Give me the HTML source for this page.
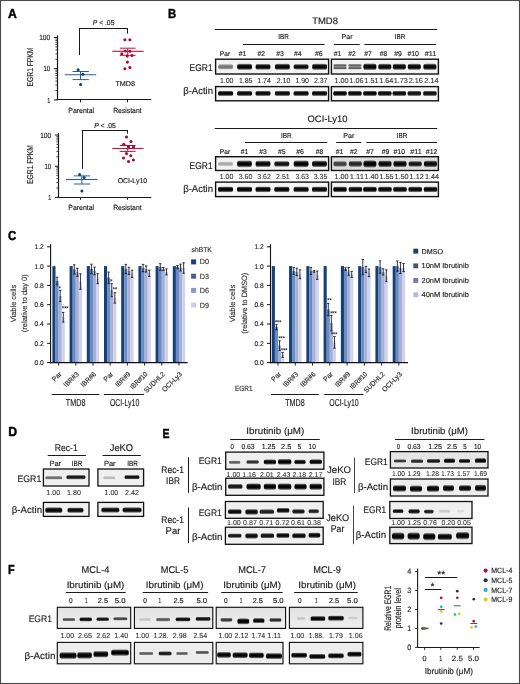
<!DOCTYPE html>
<html><head><meta charset="utf-8"><style>
html,body{margin:0;padding:0;background:#fff;}
svg{display:block;font-family:"Liberation Sans", sans-serif;will-change:transform;text-rendering:geometricPrecision;}
</style></head><body>
<svg width="520" height="684" viewBox="0 0 520 684">
<defs>
<filter id="bl" x="-30%" y="-100%" width="160%" height="300%"><feGaussianBlur stdDeviation="0.65"/></filter>
<filter id="bl2" x="-30%" y="-100%" width="160%" height="300%"><feGaussianBlur stdDeviation="0.8"/></filter>
<linearGradient id="vg" x1="0" y1="0" x2="0" y2="1"><stop offset="0" stop-color="#000" stop-opacity="0"/><stop offset="0.2" stop-color="#000" stop-opacity="0.75"/><stop offset="0.35" stop-color="#000" stop-opacity="1"/><stop offset="0.65" stop-color="#000" stop-opacity="1"/><stop offset="0.8" stop-color="#000" stop-opacity="0.75"/><stop offset="1" stop-color="#000" stop-opacity="0"/></linearGradient>
<linearGradient id="gbg" x1="0" y1="0" x2="0" y2="1"><stop offset="0" stop-color="#e2e2e2"/><stop offset="1" stop-color="#efefef"/></linearGradient>
</defs>
<rect x="0.50" y="0.50" width="519.00" height="683.00" fill="#fff" stroke="#4a4a4a" stroke-width="1.1" />
<text x="12.4" y="18.15" font-size="13.0" text-anchor="middle" fill="#000" font-weight="bold" textLength="8.8" lengthAdjust="spacingAndGlyphs" stroke="#000" stroke-width="0.45">A</text>
<text x="172.2" y="18.25" font-size="13.0" text-anchor="middle" fill="#000" font-weight="bold" textLength="8.2" lengthAdjust="spacingAndGlyphs" stroke="#000" stroke-width="0.45">B</text>
<text x="12.0" y="240.45" font-size="13.0" text-anchor="middle" fill="#000" font-weight="bold" textLength="8.2" lengthAdjust="spacingAndGlyphs" stroke="#000" stroke-width="0.45">C</text>
<text x="12.6" y="436.45" font-size="13.0" text-anchor="middle" fill="#000" font-weight="bold" textLength="8.9" lengthAdjust="spacingAndGlyphs" stroke="#000" stroke-width="0.45">D</text>
<text x="166.0" y="438.45" font-size="13.0" text-anchor="middle" fill="#000" font-weight="bold" textLength="7.0" lengthAdjust="spacingAndGlyphs" stroke="#000" stroke-width="0.45">E</text>
<text x="11.3" y="573.65" font-size="13.0" text-anchor="middle" fill="#000" font-weight="bold" textLength="6.6" lengthAdjust="spacingAndGlyphs" stroke="#000" stroke-width="0.45">F</text>
<line x1="57.5" y1="35.5" x2="57.5" y2="100.4" stroke="#1a1a1a" stroke-width="1.2"/>
<line x1="56.6" y1="99.5" x2="151.3" y2="99.5" stroke="#1a1a1a" stroke-width="1.2"/>
<line x1="53.900000000000006" y1="37.5" x2="57.2" y2="37.5" stroke="#1a1a1a" stroke-width="1.0"/>
<line x1="53.900000000000006" y1="68.7" x2="57.2" y2="68.7" stroke="#1a1a1a" stroke-width="1.0"/>
<line x1="53.900000000000006" y1="99.9" x2="57.2" y2="99.9" stroke="#1a1a1a" stroke-width="1.0"/>
<line x1="55.300000000000004" y1="59.30786413528379" x2="57.2" y2="59.30786413528379" stroke="#222" stroke-width="0.75"/>
<line x1="55.300000000000004" y1="53.813816852746534" x2="57.2" y2="53.813816852746534" stroke="#222" stroke-width="0.75"/>
<line x1="55.300000000000004" y1="49.91572827056758" x2="57.2" y2="49.91572827056758" stroke="#222" stroke-width="0.75"/>
<line x1="55.300000000000004" y1="46.89213586471622" x2="57.2" y2="46.89213586471622" stroke="#222" stroke-width="0.75"/>
<line x1="55.300000000000004" y1="44.42168098803032" x2="57.2" y2="44.42168098803032" stroke="#222" stroke-width="0.75"/>
<line x1="55.300000000000004" y1="42.33294115155519" x2="57.2" y2="42.33294115155519" stroke="#222" stroke-width="0.75"/>
<line x1="55.300000000000004" y1="40.52359240585136" x2="57.2" y2="40.52359240585136" stroke="#222" stroke-width="0.75"/>
<line x1="55.300000000000004" y1="38.927633705493065" x2="57.2" y2="38.927633705493065" stroke="#222" stroke-width="0.75"/>
<line x1="55.300000000000004" y1="90.5078641352838" x2="57.2" y2="90.5078641352838" stroke="#222" stroke-width="0.75"/>
<line x1="55.300000000000004" y1="85.01381685274654" x2="57.2" y2="85.01381685274654" stroke="#222" stroke-width="0.75"/>
<line x1="55.300000000000004" y1="81.11572827056759" x2="57.2" y2="81.11572827056759" stroke="#222" stroke-width="0.75"/>
<line x1="55.300000000000004" y1="78.09213586471623" x2="57.2" y2="78.09213586471623" stroke="#222" stroke-width="0.75"/>
<line x1="55.300000000000004" y1="75.62168098803032" x2="57.2" y2="75.62168098803032" stroke="#222" stroke-width="0.75"/>
<line x1="55.300000000000004" y1="73.53294115155519" x2="57.2" y2="73.53294115155519" stroke="#222" stroke-width="0.75"/>
<line x1="55.300000000000004" y1="71.72359240585136" x2="57.2" y2="71.72359240585136" stroke="#222" stroke-width="0.75"/>
<line x1="55.300000000000004" y1="70.12763370549307" x2="57.2" y2="70.12763370549307" stroke="#222" stroke-width="0.75"/>
<text x="50.2" y="40.16" font-size="7.6" text-anchor="end" fill="#1a1a1a" textLength="11.0" lengthAdjust="spacingAndGlyphs" stroke="#1a1a1a" stroke-width="0.15">100</text>
<text x="50.2" y="71.36" font-size="7.6" text-anchor="end" fill="#1a1a1a" textLength="6.8" lengthAdjust="spacingAndGlyphs" stroke="#1a1a1a" stroke-width="0.15">10</text>
<text x="50.2" y="102.56" font-size="7.6" text-anchor="end" fill="#1a1a1a" textLength="3.0" lengthAdjust="spacingAndGlyphs" stroke="#1a1a1a" stroke-width="0.15">1</text>
<line x1="80.5" y1="99.9" x2="80.5" y2="102.30000000000001" stroke="#1a1a1a" stroke-width="1.0"/>
<line x1="127.5" y1="99.9" x2="127.5" y2="102.30000000000001" stroke="#1a1a1a" stroke-width="1.0"/>
<text x="81.2" y="112.73" font-size="7.5" text-anchor="middle" fill="#1a1a1a" textLength="25.8" lengthAdjust="spacingAndGlyphs" stroke="#1a1a1a" stroke-width="0.15">Parental</text>
<text x="127.4" y="112.83" font-size="7.5" text-anchor="middle" fill="#1a1a1a" textLength="28.4" lengthAdjust="spacingAndGlyphs" stroke="#1a1a1a" stroke-width="0.15">Resistant</text>
<text transform="translate(30.0,67.0) rotate(-90)" x="0" y="3.01" font-size="8.6" text-anchor="middle" fill="#1a1a1a" textLength="38.8" lengthAdjust="spacingAndGlyphs" stroke="#1a1a1a" stroke-width="0.15">EGR1 FPKM</text>
<line x1="79.5" y1="28.0" x2="79.5" y2="55.0" stroke="#1a1a1a" stroke-width="1.0"/>
<line x1="79.1" y1="28.5" x2="128.0" y2="28.5" stroke="#1a1a1a" stroke-width="1.0"/>
<line x1="127.5" y1="28.0" x2="127.5" y2="33.6" stroke="#1a1a1a" stroke-width="1.0"/>
<text x="92.8" y="25.12" font-size="7.2" fill="#1a1a1a" stroke="#1a1a1a" stroke-width="0.15" textLength="21.6" lengthAdjust="spacingAndGlyphs"><tspan font-style="italic">P</tspan> &lt; .05</text>
<line x1="64.7" y1="74.8" x2="96.2" y2="74.8" stroke="#2b5d9c" stroke-width="1.1"/>
<line x1="72.5" y1="71.5" x2="88.9" y2="71.5" stroke="#2b5d9c" stroke-width="1.0"/>
<line x1="72.5" y1="79.6" x2="88.9" y2="79.6" stroke="#2b5d9c" stroke-width="1.0"/>
<line x1="80.5" y1="71.5" x2="80.5" y2="79.6" stroke="#2b5d9c" stroke-width="1.0"/>
<circle cx="78.1" cy="69.7" r="1.5" fill="#143a6e"/>
<circle cx="82.9" cy="74.2" r="1.5" fill="#143a6e"/>
<circle cx="80.6" cy="84.6" r="1.5" fill="#143a6e"/>
<line x1="112.3" y1="51.3" x2="143.6" y2="51.3" stroke="#c0123c" stroke-width="1.1"/>
<line x1="119.8" y1="48.2" x2="135.6" y2="48.2" stroke="#c0123c" stroke-width="1.0"/>
<line x1="119.8" y1="55.3" x2="135.6" y2="55.3" stroke="#c0123c" stroke-width="1.0"/>
<line x1="127.7" y1="48.2" x2="127.7" y2="55.3" stroke="#c0123c" stroke-width="1.0"/>
<circle cx="124.9" cy="39.8" r="1.55" fill="#a20d2f"/>
<circle cx="129.9" cy="39.8" r="1.55" fill="#a20d2f"/>
<circle cx="125.2" cy="51.0" r="1.55" fill="#a20d2f"/>
<circle cx="129.9" cy="51.3" r="1.55" fill="#a20d2f"/>
<circle cx="121.8" cy="53.8" r="1.55" fill="#a20d2f"/>
<circle cx="127.2" cy="56.1" r="1.55" fill="#a20d2f"/>
<circle cx="132.0" cy="55.5" r="1.55" fill="#a20d2f"/>
<circle cx="127.4" cy="62.1" r="1.55" fill="#a20d2f"/>
<circle cx="124.9" cy="68.8" r="1.55" fill="#a20d2f"/>
<circle cx="129.9" cy="67.6" r="1.55" fill="#a20d2f"/>
<text x="125.2" y="85.95" font-size="7.0" text-anchor="middle" fill="#1a1a1a" textLength="19.6" lengthAdjust="spacingAndGlyphs" stroke="#1a1a1a" stroke-width="0.15">TMD8</text>
<line x1="58.5" y1="133.0" x2="58.5" y2="197.9" stroke="#1a1a1a" stroke-width="1.2"/>
<line x1="57.6" y1="197.5" x2="151.3" y2="197.5" stroke="#1a1a1a" stroke-width="1.2"/>
<line x1="54.900000000000006" y1="135.0" x2="58.2" y2="135.0" stroke="#1a1a1a" stroke-width="1.0"/>
<line x1="54.900000000000006" y1="166.2" x2="58.2" y2="166.2" stroke="#1a1a1a" stroke-width="1.0"/>
<line x1="54.900000000000006" y1="197.4" x2="58.2" y2="197.4" stroke="#1a1a1a" stroke-width="1.0"/>
<line x1="56.300000000000004" y1="156.80786413528378" x2="58.2" y2="156.80786413528378" stroke="#222" stroke-width="0.75"/>
<line x1="56.300000000000004" y1="151.31381685274653" x2="58.2" y2="151.31381685274653" stroke="#222" stroke-width="0.75"/>
<line x1="56.300000000000004" y1="147.41572827056757" x2="58.2" y2="147.41572827056757" stroke="#222" stroke-width="0.75"/>
<line x1="56.300000000000004" y1="144.3921358647162" x2="58.2" y2="144.3921358647162" stroke="#222" stroke-width="0.75"/>
<line x1="56.300000000000004" y1="141.92168098803032" x2="58.2" y2="141.92168098803032" stroke="#222" stroke-width="0.75"/>
<line x1="56.300000000000004" y1="139.8329411515552" x2="58.2" y2="139.8329411515552" stroke="#222" stroke-width="0.75"/>
<line x1="56.300000000000004" y1="138.02359240585136" x2="58.2" y2="138.02359240585136" stroke="#222" stroke-width="0.75"/>
<line x1="56.300000000000004" y1="136.42763370549307" x2="58.2" y2="136.42763370549307" stroke="#222" stroke-width="0.75"/>
<line x1="56.300000000000004" y1="188.00786413528377" x2="58.2" y2="188.00786413528377" stroke="#222" stroke-width="0.75"/>
<line x1="56.300000000000004" y1="182.51381685274652" x2="58.2" y2="182.51381685274652" stroke="#222" stroke-width="0.75"/>
<line x1="56.300000000000004" y1="178.61572827056756" x2="58.2" y2="178.61572827056756" stroke="#222" stroke-width="0.75"/>
<line x1="56.300000000000004" y1="175.5921358647162" x2="58.2" y2="175.5921358647162" stroke="#222" stroke-width="0.75"/>
<line x1="56.300000000000004" y1="173.1216809880303" x2="58.2" y2="173.1216809880303" stroke="#222" stroke-width="0.75"/>
<line x1="56.300000000000004" y1="171.03294115155518" x2="58.2" y2="171.03294115155518" stroke="#222" stroke-width="0.75"/>
<line x1="56.300000000000004" y1="169.22359240585135" x2="58.2" y2="169.22359240585135" stroke="#222" stroke-width="0.75"/>
<line x1="56.300000000000004" y1="167.62763370549305" x2="58.2" y2="167.62763370549305" stroke="#222" stroke-width="0.75"/>
<text x="51.2" y="137.66" font-size="7.6" text-anchor="end" fill="#1a1a1a" textLength="11.0" lengthAdjust="spacingAndGlyphs" stroke="#1a1a1a" stroke-width="0.15">100</text>
<text x="51.2" y="168.86" font-size="7.6" text-anchor="end" fill="#1a1a1a" textLength="6.8" lengthAdjust="spacingAndGlyphs" stroke="#1a1a1a" stroke-width="0.15">10</text>
<text x="51.2" y="200.06" font-size="7.6" text-anchor="end" fill="#1a1a1a" textLength="3.0" lengthAdjust="spacingAndGlyphs" stroke="#1a1a1a" stroke-width="0.15">1</text>
<line x1="80.5" y1="197.4" x2="80.5" y2="199.8" stroke="#1a1a1a" stroke-width="1.0"/>
<line x1="127.5" y1="197.4" x2="127.5" y2="199.8" stroke="#1a1a1a" stroke-width="1.0"/>
<text x="81.2" y="210.22" font-size="7.5" text-anchor="middle" fill="#1a1a1a" textLength="25.8" lengthAdjust="spacingAndGlyphs" stroke="#1a1a1a" stroke-width="0.15">Parental</text>
<text x="127.4" y="210.33" font-size="7.5" text-anchor="middle" fill="#1a1a1a" textLength="28.4" lengthAdjust="spacingAndGlyphs" stroke="#1a1a1a" stroke-width="0.15">Resistant</text>
<text transform="translate(30.4,164.5) rotate(-90)" x="0" y="3.01" font-size="8.6" text-anchor="middle" fill="#1a1a1a" textLength="38.8" lengthAdjust="spacingAndGlyphs" stroke="#1a1a1a" stroke-width="0.15">EGR1 FPKM</text>
<line x1="82.5" y1="130.7" x2="82.5" y2="168.8" stroke="#1a1a1a" stroke-width="1.0"/>
<line x1="81.69999999999999" y1="130.5" x2="128.0" y2="130.5" stroke="#1a1a1a" stroke-width="1.0"/>
<line x1="127.5" y1="130.7" x2="127.5" y2="133.5" stroke="#1a1a1a" stroke-width="1.0"/>
<text x="94.2" y="127.52" font-size="7.2" fill="#1a1a1a" stroke="#1a1a1a" stroke-width="0.15" textLength="21.6" lengthAdjust="spacingAndGlyphs"><tspan font-style="italic">P</tspan> &lt; .05</text>
<line x1="66.0" y1="179.5" x2="97.5" y2="179.5" stroke="#2b5d9c" stroke-width="1.1"/>
<line x1="73.8" y1="175.9" x2="90.2" y2="175.9" stroke="#2b5d9c" stroke-width="1.0"/>
<line x1="73.8" y1="184.0" x2="90.2" y2="184.0" stroke="#2b5d9c" stroke-width="1.0"/>
<line x1="81.8" y1="175.9" x2="81.8" y2="184.0" stroke="#2b5d9c" stroke-width="1.0"/>
<circle cx="79.6" cy="174.6" r="1.5" fill="#143a6e"/>
<circle cx="84.2" cy="177.4" r="1.5" fill="#143a6e"/>
<circle cx="81.9" cy="191.1" r="1.5" fill="#143a6e"/>
<line x1="112.3" y1="148.5" x2="143.6" y2="148.5" stroke="#c0123c" stroke-width="1.1"/>
<line x1="119.8" y1="145.5" x2="135.6" y2="145.5" stroke="#c0123c" stroke-width="1.0"/>
<line x1="119.8" y1="151.4" x2="135.6" y2="151.4" stroke="#c0123c" stroke-width="1.0"/>
<line x1="127.7" y1="145.5" x2="127.7" y2="151.4" stroke="#c0123c" stroke-width="1.0"/>
<circle cx="126.5" cy="137.0" r="1.55" fill="#a20d2f"/>
<circle cx="131.0" cy="141.5" r="1.55" fill="#a20d2f"/>
<circle cx="123.8" cy="144.2" r="1.55" fill="#a20d2f"/>
<circle cx="128.5" cy="146.8" r="1.55" fill="#a20d2f"/>
<circle cx="133.5" cy="147.0" r="1.55" fill="#a20d2f"/>
<circle cx="126.5" cy="153.5" r="1.55" fill="#a20d2f"/>
<circle cx="130.8" cy="155.8" r="1.55" fill="#a20d2f"/>
<circle cx="123.5" cy="158.0" r="1.55" fill="#a20d2f"/>
<circle cx="133.4" cy="160.0" r="1.55" fill="#a20d2f"/>
<circle cx="128.5" cy="161.5" r="1.55" fill="#a20d2f"/>
<text x="132.4" y="182.85" font-size="7.0" text-anchor="middle" fill="#1a1a1a" textLength="29.5" lengthAdjust="spacingAndGlyphs" stroke="#1a1a1a" stroke-width="0.15">OCI-Ly10</text>
<text x="325.05" y="23.59" font-size="9.4" text-anchor="middle" fill="#1a1a1a" textLength="25.7" lengthAdjust="spacingAndGlyphs" stroke="#1a1a1a" stroke-width="0.15">TMD8</text>
<line x1="214.8" y1="29.5" x2="437.2" y2="29.5" stroke="#1a1a1a" stroke-width="1.0"/>
<text x="283.6" y="39.12" font-size="7.2" text-anchor="middle" fill="#1a1a1a" textLength="10.6" lengthAdjust="spacingAndGlyphs" stroke="#1a1a1a" stroke-width="0.15">IBR</text>
<line x1="243.0" y1="44.5" x2="324.5" y2="44.5" stroke="#1a1a1a" stroke-width="1.0"/>
<text x="347.0" y="39.12" font-size="7.2" text-anchor="middle" fill="#1a1a1a" textLength="11.0" lengthAdjust="spacingAndGlyphs" stroke="#1a1a1a" stroke-width="0.15">Par</text>
<line x1="334.0" y1="44.5" x2="359.7" y2="44.5" stroke="#1a1a1a" stroke-width="1.0"/>
<text x="400.0" y="39.12" font-size="7.2" text-anchor="middle" fill="#1a1a1a" textLength="10.6" lengthAdjust="spacingAndGlyphs" stroke="#1a1a1a" stroke-width="0.15">IBR</text>
<line x1="364.4" y1="44.5" x2="436.0" y2="44.5" stroke="#1a1a1a" stroke-width="1.0"/>
<text x="225.0" y="55.65" font-size="7.0" text-anchor="middle" fill="#1a1a1a" textLength="10.4" lengthAdjust="spacingAndGlyphs" stroke="#1a1a1a" stroke-width="0.15">Par</text>
<text x="242.6" y="55.65" font-size="7.0" text-anchor="middle" fill="#1a1a1a" textLength="7.6" lengthAdjust="spacingAndGlyphs" stroke="#1a1a1a" stroke-width="0.15">#1</text>
<text x="261.3" y="55.65" font-size="7.0" text-anchor="middle" fill="#1a1a1a" textLength="7.6" lengthAdjust="spacingAndGlyphs" stroke="#1a1a1a" stroke-width="0.15">#2</text>
<text x="280.1" y="55.65" font-size="7.0" text-anchor="middle" fill="#1a1a1a" textLength="7.6" lengthAdjust="spacingAndGlyphs" stroke="#1a1a1a" stroke-width="0.15">#3</text>
<text x="297.7" y="55.65" font-size="7.0" text-anchor="middle" fill="#1a1a1a" textLength="7.6" lengthAdjust="spacingAndGlyphs" stroke="#1a1a1a" stroke-width="0.15">#4</text>
<text x="318.7" y="55.65" font-size="7.0" text-anchor="middle" fill="#1a1a1a" textLength="7.6" lengthAdjust="spacingAndGlyphs" stroke="#1a1a1a" stroke-width="0.15">#6</text>
<text x="337.6" y="55.65" font-size="7.0" text-anchor="middle" fill="#1a1a1a" textLength="7.6" lengthAdjust="spacingAndGlyphs" stroke="#1a1a1a" stroke-width="0.15">#1</text>
<text x="352.1" y="55.65" font-size="7.0" text-anchor="middle" fill="#1a1a1a" textLength="7.6" lengthAdjust="spacingAndGlyphs" stroke="#1a1a1a" stroke-width="0.15">#2</text>
<text x="368.0" y="55.65" font-size="7.0" text-anchor="middle" fill="#1a1a1a" textLength="7.6" lengthAdjust="spacingAndGlyphs" stroke="#1a1a1a" stroke-width="0.15">#7</text>
<text x="383.6" y="55.65" font-size="7.0" text-anchor="middle" fill="#1a1a1a" textLength="7.6" lengthAdjust="spacingAndGlyphs" stroke="#1a1a1a" stroke-width="0.15">#8</text>
<text x="398.0" y="55.65" font-size="7.0" text-anchor="middle" fill="#1a1a1a" textLength="7.6" lengthAdjust="spacingAndGlyphs" stroke="#1a1a1a" stroke-width="0.15">#9</text>
<text x="413.2" y="55.65" font-size="7.0" text-anchor="middle" fill="#1a1a1a" textLength="11.6" lengthAdjust="spacingAndGlyphs" stroke="#1a1a1a" stroke-width="0.15">#10</text>
<text x="430.6" y="55.65" font-size="7.0" text-anchor="middle" fill="#1a1a1a" textLength="11.6" lengthAdjust="spacingAndGlyphs" stroke="#1a1a1a" stroke-width="0.15">#11</text>
<rect x="215.60" y="59.20" width="113.00" height="14.80" fill="#f3f3f3" stroke="#111" stroke-width="1.4" />
<rect x="331.40" y="59.20" width="107.00" height="14.80" fill="#f3f3f3" stroke="#111" stroke-width="1.4" />
<rect x="215.60" y="86.60" width="113.00" height="14.20" fill="#f5f5f5" stroke="#111" stroke-width="1.4" />
<rect x="331.40" y="86.60" width="107.00" height="14.20" fill="#f5f5f5" stroke="#111" stroke-width="1.4" />
<rect x="218.20" y="63.80" width="14.80" height="6.00" rx="2.70" fill="url(#vg)" fill-opacity="0.5"/>
<rect x="237.20" y="63.30" width="14.80" height="7.00" rx="3.15" fill="url(#vg)" fill-opacity="0.98"/>
<rect x="255.60" y="63.50" width="14.80" height="6.60" rx="2.97" fill="url(#vg)" fill-opacity="0.97"/>
<rect x="275.00" y="63.30" width="14.80" height="7.00" rx="3.15" fill="url(#vg)" fill-opacity="0.98"/>
<rect x="293.70" y="63.70" width="14.80" height="6.20" rx="2.79" fill="url(#vg)" fill-opacity="0.95"/>
<rect x="312.20" y="63.30" width="14.80" height="7.00" rx="3.15" fill="url(#vg)" fill-opacity="0.98"/>
<rect x="333.50" y="63.90" width="13.00" height="3.20" rx="1.44" fill="url(#vg)" fill-opacity="0.6"/>
<rect x="333.50" y="66.50" width="13.00" height="3.20" rx="1.44" fill="url(#vg)" fill-opacity="0.6"/>
<rect x="348.40" y="63.90" width="13.00" height="3.20" rx="1.44" fill="url(#vg)" fill-opacity="0.6"/>
<rect x="348.40" y="66.50" width="13.00" height="3.20" rx="1.44" fill="url(#vg)" fill-opacity="0.6"/>
<rect x="363.40" y="63.10" width="13.00" height="7.40" rx="3.33" fill="url(#vg)" fill-opacity="0.98"/>
<rect x="378.30" y="63.30" width="13.00" height="7.00" rx="3.15" fill="url(#vg)" fill-opacity="0.96"/>
<rect x="392.80" y="63.30" width="13.00" height="7.00" rx="3.15" fill="url(#vg)" fill-opacity="0.97"/>
<rect x="407.80" y="63.30" width="13.00" height="7.00" rx="3.15" fill="url(#vg)" fill-opacity="0.97"/>
<rect x="423.40" y="63.20" width="13.00" height="7.20" rx="3.24" fill="url(#vg)" fill-opacity="0.97"/>
<rect x="218.10" y="90.40" width="15.00" height="6.00" rx="2.70" fill="url(#vg)" fill-opacity="0.97"/>
<rect x="237.10" y="90.40" width="15.00" height="6.00" rx="2.70" fill="url(#vg)" fill-opacity="0.95"/>
<rect x="255.50" y="90.40" width="15.00" height="6.00" rx="2.70" fill="url(#vg)" fill-opacity="0.95"/>
<rect x="274.90" y="90.40" width="15.00" height="6.00" rx="2.70" fill="url(#vg)" fill-opacity="0.95"/>
<rect x="293.60" y="90.40" width="15.00" height="6.00" rx="2.70" fill="url(#vg)" fill-opacity="0.95"/>
<rect x="312.10" y="90.40" width="15.00" height="6.00" rx="2.70" fill="url(#vg)" fill-opacity="0.95"/>
<rect x="333.25" y="90.40" width="13.50" height="6.00" rx="2.70" fill="url(#vg)" fill-opacity="0.97"/>
<rect x="348.15" y="90.40" width="13.50" height="6.00" rx="2.70" fill="url(#vg)" fill-opacity="0.95"/>
<rect x="363.15" y="90.40" width="13.50" height="6.00" rx="2.70" fill="url(#vg)" fill-opacity="0.97"/>
<rect x="378.05" y="90.40" width="13.50" height="6.00" rx="2.70" fill="url(#vg)" fill-opacity="0.95"/>
<rect x="392.55" y="90.40" width="13.50" height="6.00" rx="2.70" fill="url(#vg)" fill-opacity="0.95"/>
<rect x="407.55" y="90.40" width="13.50" height="6.00" rx="2.70" fill="url(#vg)" fill-opacity="0.9"/>
<rect x="423.15" y="90.40" width="13.50" height="6.00" rx="2.70" fill="url(#vg)" fill-opacity="0.92"/>
<text x="226.7" y="82.75" font-size="7.3" text-anchor="middle" fill="#2e2e2e" textLength="13.6" lengthAdjust="spacingAndGlyphs" stroke="#2e2e2e" stroke-width="0.08">1.00</text>
<text x="245.7" y="82.75" font-size="7.3" text-anchor="middle" fill="#2e2e2e" textLength="13.6" lengthAdjust="spacingAndGlyphs" stroke="#2e2e2e" stroke-width="0.08">1.85</text>
<text x="264.1" y="82.75" font-size="7.3" text-anchor="middle" fill="#2e2e2e" textLength="13.6" lengthAdjust="spacingAndGlyphs" stroke="#2e2e2e" stroke-width="0.08">1.74</text>
<text x="283.5" y="82.75" font-size="7.3" text-anchor="middle" fill="#2e2e2e" textLength="13.6" lengthAdjust="spacingAndGlyphs" stroke="#2e2e2e" stroke-width="0.08">2.10</text>
<text x="302.20000000000005" y="82.75" font-size="7.3" text-anchor="middle" fill="#2e2e2e" textLength="13.6" lengthAdjust="spacingAndGlyphs" stroke="#2e2e2e" stroke-width="0.08">1.90</text>
<text x="320.70000000000005" y="82.75" font-size="7.3" text-anchor="middle" fill="#2e2e2e" textLength="13.6" lengthAdjust="spacingAndGlyphs" stroke="#2e2e2e" stroke-width="0.08">2.37</text>
<text x="341.5" y="82.75" font-size="7.3" text-anchor="middle" fill="#2e2e2e" textLength="14.2" lengthAdjust="spacingAndGlyphs" stroke="#2e2e2e" stroke-width="0.08">1.00</text>
<text x="356.4" y="82.75" font-size="7.3" text-anchor="middle" fill="#2e2e2e" textLength="14.2" lengthAdjust="spacingAndGlyphs" stroke="#2e2e2e" stroke-width="0.08">1.06</text>
<text x="371.4" y="82.75" font-size="7.3" text-anchor="middle" fill="#2e2e2e" textLength="14.2" lengthAdjust="spacingAndGlyphs" stroke="#2e2e2e" stroke-width="0.08">1.51</text>
<text x="386.3" y="82.75" font-size="7.3" text-anchor="middle" fill="#2e2e2e" textLength="14.2" lengthAdjust="spacingAndGlyphs" stroke="#2e2e2e" stroke-width="0.08">1.64</text>
<text x="400.8" y="82.75" font-size="7.3" text-anchor="middle" fill="#2e2e2e" textLength="14.2" lengthAdjust="spacingAndGlyphs" stroke="#2e2e2e" stroke-width="0.08">1.73</text>
<text x="415.8" y="82.75" font-size="7.3" text-anchor="middle" fill="#2e2e2e" textLength="14.2" lengthAdjust="spacingAndGlyphs" stroke="#2e2e2e" stroke-width="0.08">2.16</text>
<text x="431.4" y="82.75" font-size="7.3" text-anchor="middle" fill="#2e2e2e" textLength="14.2" lengthAdjust="spacingAndGlyphs" stroke="#2e2e2e" stroke-width="0.08">2.14</text>
<text x="212.6" y="70.73" font-size="9.8" text-anchor="end" fill="#1a1a1a" textLength="23.0" lengthAdjust="spacingAndGlyphs" stroke="#1a1a1a" stroke-width="0.15">EGR1</text>
<text x="213.0" y="94.23" font-size="9.8" text-anchor="end" fill="#1a1a1a" textLength="29.8" lengthAdjust="spacingAndGlyphs" stroke="#1a1a1a" stroke-width="0.15">β-Actin</text>
<text x="327.5" y="122.39" font-size="9.4" text-anchor="middle" fill="#1a1a1a" textLength="39.9" lengthAdjust="spacingAndGlyphs" stroke="#1a1a1a" stroke-width="0.15">OCI-Ly10</text>
<line x1="214.8" y1="128.5" x2="437.2" y2="128.5" stroke="#1a1a1a" stroke-width="1.0"/>
<text x="286.2" y="137.92" font-size="7.2" text-anchor="middle" fill="#1a1a1a" textLength="10.6" lengthAdjust="spacingAndGlyphs" stroke="#1a1a1a" stroke-width="0.15">IBR</text>
<line x1="245.0" y1="142.5" x2="327.3" y2="142.5" stroke="#1a1a1a" stroke-width="1.0"/>
<text x="348.8" y="137.92" font-size="7.2" text-anchor="middle" fill="#1a1a1a" textLength="11.0" lengthAdjust="spacingAndGlyphs" stroke="#1a1a1a" stroke-width="0.15">Par</text>
<line x1="336.2" y1="142.5" x2="361.3" y2="142.5" stroke="#1a1a1a" stroke-width="1.0"/>
<text x="402.0" y="137.92" font-size="7.2" text-anchor="middle" fill="#1a1a1a" textLength="10.6" lengthAdjust="spacingAndGlyphs" stroke="#1a1a1a" stroke-width="0.15">IBR</text>
<line x1="366.3" y1="142.5" x2="437.0" y2="142.5" stroke="#1a1a1a" stroke-width="1.0"/>
<text x="225.0" y="153.95" font-size="7.0" text-anchor="middle" fill="#1a1a1a" textLength="10.4" lengthAdjust="spacingAndGlyphs" stroke="#1a1a1a" stroke-width="0.15">Par</text>
<text x="244.6" y="153.95" font-size="7.0" text-anchor="middle" fill="#1a1a1a" textLength="7.6" lengthAdjust="spacingAndGlyphs" stroke="#1a1a1a" stroke-width="0.15">#1</text>
<text x="263.0" y="153.95" font-size="7.0" text-anchor="middle" fill="#1a1a1a" textLength="7.6" lengthAdjust="spacingAndGlyphs" stroke="#1a1a1a" stroke-width="0.15">#3</text>
<text x="281.8" y="153.95" font-size="7.0" text-anchor="middle" fill="#1a1a1a" textLength="7.6" lengthAdjust="spacingAndGlyphs" stroke="#1a1a1a" stroke-width="0.15">#5</text>
<text x="300.0" y="153.95" font-size="7.0" text-anchor="middle" fill="#1a1a1a" textLength="7.6" lengthAdjust="spacingAndGlyphs" stroke="#1a1a1a" stroke-width="0.15">#6</text>
<text x="319.5" y="153.95" font-size="7.0" text-anchor="middle" fill="#1a1a1a" textLength="7.6" lengthAdjust="spacingAndGlyphs" stroke="#1a1a1a" stroke-width="0.15">#8</text>
<text x="339.6" y="153.95" font-size="7.0" text-anchor="middle" fill="#1a1a1a" textLength="7.6" lengthAdjust="spacingAndGlyphs" stroke="#1a1a1a" stroke-width="0.15">#1</text>
<text x="353.7" y="153.95" font-size="7.0" text-anchor="middle" fill="#1a1a1a" textLength="7.6" lengthAdjust="spacingAndGlyphs" stroke="#1a1a1a" stroke-width="0.15">#2</text>
<text x="370.0" y="153.95" font-size="7.0" text-anchor="middle" fill="#1a1a1a" textLength="7.6" lengthAdjust="spacingAndGlyphs" stroke="#1a1a1a" stroke-width="0.15">#7</text>
<text x="385.5" y="153.95" font-size="7.0" text-anchor="middle" fill="#1a1a1a" textLength="7.6" lengthAdjust="spacingAndGlyphs" stroke="#1a1a1a" stroke-width="0.15">#9</text>
<text x="399.3" y="153.95" font-size="7.0" text-anchor="middle" fill="#1a1a1a" textLength="11.6" lengthAdjust="spacingAndGlyphs" stroke="#1a1a1a" stroke-width="0.15">#10</text>
<text x="416.0" y="153.95" font-size="7.0" text-anchor="middle" fill="#1a1a1a" textLength="11.6" lengthAdjust="spacingAndGlyphs" stroke="#1a1a1a" stroke-width="0.15">#11</text>
<text x="431.6" y="153.95" font-size="7.0" text-anchor="middle" fill="#1a1a1a" textLength="11.6" lengthAdjust="spacingAndGlyphs" stroke="#1a1a1a" stroke-width="0.15">#12</text>
<rect x="215.60" y="156.70" width="113.00" height="13.80" fill="#f3f3f3" stroke="#111" stroke-width="1.4" />
<rect x="331.40" y="156.70" width="107.00" height="13.80" fill="#dedede" stroke="#111" stroke-width="1.4" />
<rect x="215.60" y="182.10" width="113.00" height="14.50" fill="#f5f5f5" stroke="#111" stroke-width="1.4" />
<rect x="331.40" y="182.10" width="107.00" height="14.50" fill="#f5f5f5" stroke="#111" stroke-width="1.4" />
<rect x="218.10" y="161.40" width="14.80" height="5.00" rx="2.25" fill="url(#vg)" fill-opacity="0.3"/>
<rect x="237.10" y="160.10" width="14.80" height="7.60" rx="3.42" fill="url(#vg)" fill-opacity="0.98"/>
<rect x="255.60" y="160.30" width="14.80" height="7.20" rx="3.24" fill="url(#vg)" fill-opacity="0.97"/>
<rect x="274.40" y="160.70" width="14.80" height="6.40" rx="2.88" fill="url(#vg)" fill-opacity="0.92"/>
<rect x="293.70" y="160.10" width="14.80" height="7.60" rx="3.42" fill="url(#vg)" fill-opacity="0.98"/>
<rect x="312.10" y="160.20" width="14.80" height="7.40" rx="3.33" fill="url(#vg)" fill-opacity="0.97"/>
<rect x="333.50" y="160.70" width="13.00" height="6.40" rx="2.88" fill="url(#vg)" fill-opacity="0.7"/>
<rect x="348.90" y="160.50" width="13.00" height="6.80" rx="3.06" fill="url(#vg)" fill-opacity="0.82"/>
<rect x="363.40" y="159.90" width="13.00" height="8.00" rx="3.60" fill="url(#vg)" fill-opacity="0.98"/>
<rect x="378.50" y="160.20" width="13.00" height="7.40" rx="3.33" fill="url(#vg)" fill-opacity="0.96"/>
<rect x="393.50" y="160.20" width="13.00" height="7.40" rx="3.33" fill="url(#vg)" fill-opacity="0.96"/>
<rect x="408.70" y="160.70" width="13.00" height="6.40" rx="2.88" fill="url(#vg)" fill-opacity="0.9"/>
<rect x="424.00" y="160.20" width="13.00" height="7.40" rx="3.33" fill="url(#vg)" fill-opacity="0.95"/>
<rect x="218.00" y="186.20" width="15.00" height="6.40" rx="2.88" fill="url(#vg)" fill-opacity="0.97"/>
<rect x="237.00" y="186.20" width="15.00" height="6.40" rx="2.88" fill="url(#vg)" fill-opacity="0.97"/>
<rect x="255.50" y="186.20" width="15.00" height="6.40" rx="2.88" fill="url(#vg)" fill-opacity="0.97"/>
<rect x="274.30" y="186.20" width="15.00" height="6.40" rx="2.88" fill="url(#vg)" fill-opacity="0.97"/>
<rect x="293.60" y="186.20" width="15.00" height="6.40" rx="2.88" fill="url(#vg)" fill-opacity="0.95"/>
<rect x="312.00" y="186.20" width="15.00" height="6.40" rx="2.88" fill="url(#vg)" fill-opacity="0.95"/>
<rect x="333.25" y="186.20" width="13.50" height="6.40" rx="2.88" fill="url(#vg)" fill-opacity="0.97"/>
<rect x="348.65" y="186.20" width="13.50" height="6.40" rx="2.88" fill="url(#vg)" fill-opacity="0.95"/>
<rect x="363.15" y="186.20" width="13.50" height="6.40" rx="2.88" fill="url(#vg)" fill-opacity="0.97"/>
<rect x="378.25" y="186.20" width="13.50" height="6.40" rx="2.88" fill="url(#vg)" fill-opacity="0.95"/>
<rect x="393.25" y="186.20" width="13.50" height="6.40" rx="2.88" fill="url(#vg)" fill-opacity="0.95"/>
<rect x="408.45" y="186.20" width="13.50" height="6.40" rx="2.88" fill="url(#vg)" fill-opacity="0.95"/>
<rect x="423.75" y="186.20" width="13.50" height="6.40" rx="2.88" fill="url(#vg)" fill-opacity="0.95"/>
<text x="226.6" y="178.96" font-size="7.3" text-anchor="middle" fill="#2e2e2e" textLength="13.6" lengthAdjust="spacingAndGlyphs" stroke="#2e2e2e" stroke-width="0.08">1.00</text>
<text x="245.6" y="178.96" font-size="7.3" text-anchor="middle" fill="#2e2e2e" textLength="13.6" lengthAdjust="spacingAndGlyphs" stroke="#2e2e2e" stroke-width="0.08">3.60</text>
<text x="264.1" y="178.96" font-size="7.3" text-anchor="middle" fill="#2e2e2e" textLength="13.6" lengthAdjust="spacingAndGlyphs" stroke="#2e2e2e" stroke-width="0.08">3.62</text>
<text x="282.90000000000003" y="178.96" font-size="7.3" text-anchor="middle" fill="#2e2e2e" textLength="13.6" lengthAdjust="spacingAndGlyphs" stroke="#2e2e2e" stroke-width="0.08">2.51</text>
<text x="302.20000000000005" y="178.96" font-size="7.3" text-anchor="middle" fill="#2e2e2e" textLength="13.6" lengthAdjust="spacingAndGlyphs" stroke="#2e2e2e" stroke-width="0.08">3.63</text>
<text x="320.6" y="178.96" font-size="7.3" text-anchor="middle" fill="#2e2e2e" textLength="13.6" lengthAdjust="spacingAndGlyphs" stroke="#2e2e2e" stroke-width="0.08">3.35</text>
<text x="341.5" y="178.96" font-size="7.3" text-anchor="middle" fill="#2e2e2e" textLength="14.2" lengthAdjust="spacingAndGlyphs" stroke="#2e2e2e" stroke-width="0.08">1.00</text>
<text x="356.9" y="178.96" font-size="7.3" text-anchor="middle" fill="#2e2e2e" textLength="14.2" lengthAdjust="spacingAndGlyphs" stroke="#2e2e2e" stroke-width="0.08">1.11</text>
<text x="371.4" y="178.96" font-size="7.3" text-anchor="middle" fill="#2e2e2e" textLength="14.2" lengthAdjust="spacingAndGlyphs" stroke="#2e2e2e" stroke-width="0.08">1.40</text>
<text x="386.5" y="178.96" font-size="7.3" text-anchor="middle" fill="#2e2e2e" textLength="14.2" lengthAdjust="spacingAndGlyphs" stroke="#2e2e2e" stroke-width="0.08">1.55</text>
<text x="401.5" y="178.96" font-size="7.3" text-anchor="middle" fill="#2e2e2e" textLength="14.2" lengthAdjust="spacingAndGlyphs" stroke="#2e2e2e" stroke-width="0.08">1.50</text>
<text x="416.7" y="178.96" font-size="7.3" text-anchor="middle" fill="#2e2e2e" textLength="14.2" lengthAdjust="spacingAndGlyphs" stroke="#2e2e2e" stroke-width="0.08">1.12</text>
<text x="432.0" y="178.96" font-size="7.3" text-anchor="middle" fill="#2e2e2e" textLength="14.2" lengthAdjust="spacingAndGlyphs" stroke="#2e2e2e" stroke-width="0.08">1.44</text>
<text x="212.6" y="168.63" font-size="9.8" text-anchor="end" fill="#1a1a1a" textLength="23.0" lengthAdjust="spacingAndGlyphs" stroke="#1a1a1a" stroke-width="0.15">EGR1</text>
<text x="213.0" y="192.28" font-size="9.8" text-anchor="end" fill="#1a1a1a" textLength="29.8" lengthAdjust="spacingAndGlyphs" stroke="#1a1a1a" stroke-width="0.15">β-Actin</text>
<rect x="52.40" y="266.10" width="3.10" height="96.50" fill="#143f78" />
<rect x="55.50" y="281.06" width="3.10" height="81.54" fill="#6b8bc4" />
<rect x="58.60" y="296.02" width="3.10" height="66.58" fill="#a7b0d6" />
<rect x="61.70" y="317.25" width="3.10" height="45.36" fill="#d2d2e8" />
<line x1="57.05" y1="277.1975" x2="57.05" y2="284.9175" stroke="#111" stroke-width="0.85"/>
<line x1="55.849999999999994" y1="277.1975" x2="58.25" y2="277.1975" stroke="#111" stroke-width="0.85"/>
<line x1="55.849999999999994" y1="284.9175" x2="58.25" y2="284.9175" stroke="#111" stroke-width="0.85"/>
<line x1="60.15" y1="290.41800000000006" x2="60.15" y2="301.612" stroke="#111" stroke-width="0.85"/>
<line x1="58.949999999999996" y1="290.41800000000006" x2="61.35" y2="290.41800000000006" stroke="#111" stroke-width="0.85"/>
<line x1="58.949999999999996" y1="301.612" x2="61.35" y2="301.612" stroke="#111" stroke-width="0.85"/>
<line x1="63.25" y1="312.42" x2="63.25" y2="322.07" stroke="#111" stroke-width="0.85"/>
<line x1="62.05" y1="312.42" x2="64.45" y2="312.42" stroke="#111" stroke-width="0.85"/>
<line x1="62.05" y1="322.07" x2="64.45" y2="322.07" stroke="#111" stroke-width="0.85"/>
<rect x="69.60" y="266.10" width="3.10" height="96.50" fill="#143f78" />
<rect x="72.70" y="269.38" width="3.10" height="93.22" fill="#6b8bc4" />
<rect x="75.80" y="272.28" width="3.10" height="90.32" fill="#a7b0d6" />
<rect x="78.90" y="281.54" width="3.10" height="81.06" fill="#d2d2e8" />
<line x1="74.24999999999999" y1="264.749" x2="74.24999999999999" y2="274.01300000000003" stroke="#111" stroke-width="0.85"/>
<line x1="73.04999999999998" y1="264.749" x2="75.44999999999999" y2="264.749" stroke="#111" stroke-width="0.85"/>
<line x1="73.04999999999998" y1="274.01300000000003" x2="75.44999999999999" y2="274.01300000000003" stroke="#111" stroke-width="0.85"/>
<line x1="77.35" y1="268.223" x2="77.35" y2="276.329" stroke="#111" stroke-width="0.85"/>
<line x1="76.14999999999999" y1="268.223" x2="78.55" y2="268.223" stroke="#111" stroke-width="0.85"/>
<line x1="76.14999999999999" y1="276.329" x2="78.55" y2="276.329" stroke="#111" stroke-width="0.85"/>
<line x1="80.44999999999999" y1="273.82" x2="80.44999999999999" y2="289.26000000000005" stroke="#111" stroke-width="0.85"/>
<line x1="79.24999999999999" y1="273.82" x2="81.64999999999999" y2="273.82" stroke="#111" stroke-width="0.85"/>
<line x1="79.24999999999999" y1="289.26000000000005" x2="81.64999999999999" y2="289.26000000000005" stroke="#111" stroke-width="0.85"/>
<rect x="86.80" y="266.10" width="3.10" height="96.50" fill="#143f78" />
<rect x="89.90" y="269.00" width="3.10" height="93.61" fill="#6b8bc4" />
<rect x="93.00" y="270.93" width="3.10" height="91.68" fill="#a7b0d6" />
<rect x="96.10" y="278.65" width="3.10" height="83.95" fill="#d2d2e8" />
<line x1="91.44999999999999" y1="264.17" x2="91.44999999999999" y2="273.82" stroke="#111" stroke-width="0.85"/>
<line x1="90.24999999999999" y1="264.17" x2="92.64999999999999" y2="264.17" stroke="#111" stroke-width="0.85"/>
<line x1="90.24999999999999" y1="273.82" x2="92.64999999999999" y2="273.82" stroke="#111" stroke-width="0.85"/>
<line x1="94.55" y1="267.065" x2="94.55" y2="274.785" stroke="#111" stroke-width="0.85"/>
<line x1="93.35" y1="267.065" x2="95.75" y2="267.065" stroke="#111" stroke-width="0.85"/>
<line x1="93.35" y1="274.785" x2="95.75" y2="274.785" stroke="#111" stroke-width="0.85"/>
<line x1="97.64999999999999" y1="273.62700000000007" x2="97.64999999999999" y2="283.663" stroke="#111" stroke-width="0.85"/>
<line x1="96.44999999999999" y1="273.62700000000007" x2="98.85" y2="273.62700000000007" stroke="#111" stroke-width="0.85"/>
<line x1="96.44999999999999" y1="283.663" x2="98.85" y2="283.663" stroke="#111" stroke-width="0.85"/>
<rect x="104.00" y="266.10" width="3.10" height="96.50" fill="#143f78" />
<rect x="107.10" y="277.68" width="3.10" height="84.92" fill="#6b8bc4" />
<rect x="110.20" y="290.23" width="3.10" height="72.38" fill="#a7b0d6" />
<rect x="113.30" y="297.95" width="3.10" height="64.65" fill="#d2d2e8" />
<line x1="108.64999999999999" y1="272.083" x2="108.64999999999999" y2="283.277" stroke="#111" stroke-width="0.85"/>
<line x1="107.44999999999999" y1="272.083" x2="109.85" y2="272.083" stroke="#111" stroke-width="0.85"/>
<line x1="107.44999999999999" y1="283.277" x2="109.85" y2="283.277" stroke="#111" stroke-width="0.85"/>
<line x1="111.75" y1="283.663" x2="111.75" y2="296.78700000000003" stroke="#111" stroke-width="0.85"/>
<line x1="110.55" y1="283.663" x2="112.95" y2="283.663" stroke="#111" stroke-width="0.85"/>
<line x1="110.55" y1="296.78700000000003" x2="112.95" y2="296.78700000000003" stroke="#111" stroke-width="0.85"/>
<line x1="114.85" y1="292.73400000000004" x2="114.85" y2="303.15600000000006" stroke="#111" stroke-width="0.85"/>
<line x1="113.64999999999999" y1="292.73400000000004" x2="116.05" y2="292.73400000000004" stroke="#111" stroke-width="0.85"/>
<line x1="113.64999999999999" y1="303.15600000000006" x2="116.05" y2="303.15600000000006" stroke="#111" stroke-width="0.85"/>
<rect x="121.20" y="266.10" width="3.10" height="96.50" fill="#143f78" />
<rect x="124.30" y="269.00" width="3.10" height="93.61" fill="#6b8bc4" />
<rect x="127.40" y="270.93" width="3.10" height="91.68" fill="#a7b0d6" />
<rect x="130.50" y="273.82" width="3.10" height="88.78" fill="#d2d2e8" />
<line x1="125.84999999999998" y1="264.363" x2="125.84999999999998" y2="273.627" stroke="#111" stroke-width="0.85"/>
<line x1="124.64999999999998" y1="264.363" x2="127.04999999999998" y2="264.363" stroke="#111" stroke-width="0.85"/>
<line x1="124.64999999999998" y1="273.627" x2="127.04999999999998" y2="273.627" stroke="#111" stroke-width="0.85"/>
<line x1="128.95" y1="267.35450000000003" x2="128.95" y2="274.4955" stroke="#111" stroke-width="0.85"/>
<line x1="127.74999999999999" y1="267.35450000000003" x2="130.14999999999998" y2="267.35450000000003" stroke="#111" stroke-width="0.85"/>
<line x1="127.74999999999999" y1="274.4955" x2="130.14999999999998" y2="274.4955" stroke="#111" stroke-width="0.85"/>
<line x1="132.05" y1="270.1530000000001" x2="132.05" y2="277.487" stroke="#111" stroke-width="0.85"/>
<line x1="130.85000000000002" y1="270.1530000000001" x2="133.25" y2="270.1530000000001" stroke="#111" stroke-width="0.85"/>
<line x1="130.85000000000002" y1="277.487" x2="133.25" y2="277.487" stroke="#111" stroke-width="0.85"/>
<rect x="138.40" y="266.10" width="3.10" height="96.50" fill="#143f78" />
<rect x="141.50" y="268.03" width="3.10" height="94.57" fill="#6b8bc4" />
<rect x="144.60" y="269.00" width="3.10" height="93.61" fill="#a7b0d6" />
<rect x="147.70" y="273.34" width="3.10" height="89.26" fill="#d2d2e8" />
<line x1="143.05" y1="264.36300000000006" x2="143.05" y2="271.697" stroke="#111" stroke-width="0.85"/>
<line x1="141.85000000000002" y1="264.36300000000006" x2="144.25" y2="264.36300000000006" stroke="#111" stroke-width="0.85"/>
<line x1="141.85000000000002" y1="271.697" x2="144.25" y2="271.697" stroke="#111" stroke-width="0.85"/>
<line x1="146.15" y1="265.907" x2="146.15" y2="272.083" stroke="#111" stroke-width="0.85"/>
<line x1="144.95000000000002" y1="265.907" x2="147.35" y2="265.907" stroke="#111" stroke-width="0.85"/>
<line x1="144.95000000000002" y1="272.083" x2="147.35" y2="272.083" stroke="#111" stroke-width="0.85"/>
<line x1="149.25000000000003" y1="270.153" x2="149.25000000000003" y2="276.52200000000005" stroke="#111" stroke-width="0.85"/>
<line x1="148.05000000000004" y1="270.153" x2="150.45000000000002" y2="270.153" stroke="#111" stroke-width="0.85"/>
<line x1="148.05000000000004" y1="276.52200000000005" x2="150.45000000000002" y2="276.52200000000005" stroke="#111" stroke-width="0.85"/>
<rect x="155.60" y="266.10" width="3.10" height="96.50" fill="#143f78" />
<rect x="158.70" y="267.07" width="3.10" height="95.53" fill="#6b8bc4" />
<rect x="161.80" y="269.00" width="3.10" height="93.61" fill="#a7b0d6" />
<rect x="164.90" y="271.89" width="3.10" height="90.71" fill="#d2d2e8" />
<line x1="160.25" y1="263.68750000000006" x2="160.25" y2="270.44250000000005" stroke="#111" stroke-width="0.85"/>
<line x1="159.05" y1="263.68750000000006" x2="161.45" y2="263.68750000000006" stroke="#111" stroke-width="0.85"/>
<line x1="159.05" y1="270.44250000000005" x2="161.45" y2="270.44250000000005" stroke="#111" stroke-width="0.85"/>
<line x1="163.35" y1="267.451" x2="163.35" y2="270.539" stroke="#111" stroke-width="0.85"/>
<line x1="162.15" y1="267.451" x2="164.54999999999998" y2="267.451" stroke="#111" stroke-width="0.85"/>
<line x1="162.15" y1="270.539" x2="164.54999999999998" y2="270.539" stroke="#111" stroke-width="0.85"/>
<line x1="166.45000000000002" y1="268.89850000000007" x2="166.45000000000002" y2="274.8815" stroke="#111" stroke-width="0.85"/>
<line x1="165.25000000000003" y1="268.89850000000007" x2="167.65" y2="268.89850000000007" stroke="#111" stroke-width="0.85"/>
<line x1="165.25000000000003" y1="274.8815" x2="167.65" y2="274.8815" stroke="#111" stroke-width="0.85"/>
<rect x="172.80" y="266.10" width="3.10" height="96.50" fill="#143f78" />
<rect x="175.90" y="267.07" width="3.10" height="95.53" fill="#6b8bc4" />
<rect x="179.00" y="267.55" width="3.10" height="95.05" fill="#a7b0d6" />
<rect x="182.10" y="268.03" width="3.10" height="94.57" fill="#d2d2e8" />
<line x1="177.45" y1="265.5210000000001" x2="177.45" y2="268.60900000000004" stroke="#111" stroke-width="0.85"/>
<line x1="176.25" y1="265.5210000000001" x2="178.64999999999998" y2="265.5210000000001" stroke="#111" stroke-width="0.85"/>
<line x1="176.25" y1="268.60900000000004" x2="178.64999999999998" y2="268.60900000000004" stroke="#111" stroke-width="0.85"/>
<line x1="180.54999999999998" y1="264.17" x2="180.54999999999998" y2="270.925" stroke="#111" stroke-width="0.85"/>
<line x1="179.35" y1="264.17" x2="181.74999999999997" y2="264.17" stroke="#111" stroke-width="0.85"/>
<line x1="179.35" y1="270.925" x2="181.74999999999997" y2="270.925" stroke="#111" stroke-width="0.85"/>
<line x1="183.65" y1="262.819" x2="183.65" y2="273.24100000000004" stroke="#111" stroke-width="0.85"/>
<line x1="182.45000000000002" y1="262.819" x2="184.85" y2="262.819" stroke="#111" stroke-width="0.85"/>
<line x1="182.45000000000002" y1="273.24100000000004" x2="184.85" y2="273.24100000000004" stroke="#111" stroke-width="0.85"/>
<line x1="50.6" y1="244.3" x2="50.6" y2="363.20000000000005" stroke="#111" stroke-width="1.1"/>
<line x1="50.1" y1="362.6" x2="187.7" y2="362.6" stroke="#111" stroke-width="1.1"/>
<line x1="47.1" y1="362.6" x2="50.6" y2="362.6" stroke="#111" stroke-width="1.0"/>
<text x="43.800000000000004" y="365.02" font-size="6.9" text-anchor="end" fill="#2a2a2a" textLength="9.3" lengthAdjust="spacingAndGlyphs" stroke="#2a2a2a" stroke-width="0.15">0.0</text>
<line x1="47.1" y1="343.3" x2="50.6" y2="343.3" stroke="#111" stroke-width="1.0"/>
<text x="43.800000000000004" y="345.72" font-size="6.9" text-anchor="end" fill="#2a2a2a" textLength="9.3" lengthAdjust="spacingAndGlyphs" stroke="#2a2a2a" stroke-width="0.15">0.2</text>
<line x1="47.1" y1="324.0" x2="50.6" y2="324.0" stroke="#111" stroke-width="1.0"/>
<text x="43.800000000000004" y="326.42" font-size="6.9" text-anchor="end" fill="#2a2a2a" textLength="9.3" lengthAdjust="spacingAndGlyphs" stroke="#2a2a2a" stroke-width="0.15">0.4</text>
<line x1="47.1" y1="304.70000000000005" x2="50.6" y2="304.70000000000005" stroke="#111" stroke-width="1.0"/>
<text x="43.800000000000004" y="307.12" font-size="6.9" text-anchor="end" fill="#2a2a2a" textLength="9.3" lengthAdjust="spacingAndGlyphs" stroke="#2a2a2a" stroke-width="0.15">0.6</text>
<line x1="47.1" y1="285.40000000000003" x2="50.6" y2="285.40000000000003" stroke="#111" stroke-width="1.0"/>
<text x="43.800000000000004" y="287.82" font-size="6.9" text-anchor="end" fill="#2a2a2a" textLength="9.3" lengthAdjust="spacingAndGlyphs" stroke="#2a2a2a" stroke-width="0.15">0.8</text>
<line x1="47.1" y1="266.1" x2="50.6" y2="266.1" stroke="#111" stroke-width="1.0"/>
<text x="43.800000000000004" y="268.52" font-size="6.9" text-anchor="end" fill="#2a2a2a" textLength="9.3" lengthAdjust="spacingAndGlyphs" stroke="#2a2a2a" stroke-width="0.15">1.0</text>
<line x1="47.1" y1="246.8" x2="50.6" y2="246.8" stroke="#111" stroke-width="1.0"/>
<text x="43.800000000000004" y="249.22" font-size="6.9" text-anchor="end" fill="#2a2a2a" textLength="9.3" lengthAdjust="spacingAndGlyphs" stroke="#2a2a2a" stroke-width="0.15">1.2</text>
<line x1="58.6" y1="362.6" x2="58.6" y2="365.6" stroke="#111" stroke-width="0.9"/>
<line x1="75.8" y1="362.6" x2="75.8" y2="365.6" stroke="#111" stroke-width="0.9"/>
<line x1="93.0" y1="362.6" x2="93.0" y2="365.6" stroke="#111" stroke-width="0.9"/>
<line x1="110.2" y1="362.6" x2="110.2" y2="365.6" stroke="#111" stroke-width="0.9"/>
<line x1="127.39999999999999" y1="362.6" x2="127.39999999999999" y2="365.6" stroke="#111" stroke-width="0.9"/>
<line x1="144.6" y1="362.6" x2="144.6" y2="365.6" stroke="#111" stroke-width="0.9"/>
<line x1="161.79999999999998" y1="362.6" x2="161.79999999999998" y2="365.6" stroke="#111" stroke-width="0.9"/>
<line x1="178.99999999999997" y1="362.6" x2="178.99999999999997" y2="365.6" stroke="#111" stroke-width="0.9"/>
<text transform="translate(13.3,303.5) rotate(-90)" x="0" y="2.66" font-size="7.6" text-anchor="middle" fill="#333" textLength="37.5" lengthAdjust="spacingAndGlyphs" stroke="#333" stroke-width="0.15">Viable cells</text>
<text transform="translate(24.7,303.2) rotate(-90)" x="0" y="2.66" font-size="7.6" text-anchor="middle" fill="#333" textLength="58.0" lengthAdjust="spacingAndGlyphs" stroke="#333" stroke-width="0.15">(relative to day 0)</text>
<text x="59.7" y="290.43" font-size="5.5" text-anchor="middle" fill="#222" stroke="#222" stroke-width="0.15">*</text>
<text x="65.3" y="309.93" font-size="5.5" text-anchor="middle" fill="#222" stroke="#222" stroke-width="0.15">***</text>
<text x="111.4" y="282.93" font-size="5.5" text-anchor="middle" fill="#222" stroke="#222" stroke-width="0.15">*</text>
<text x="114.9" y="291.43" font-size="5.5" text-anchor="middle" fill="#222" stroke="#222" stroke-width="0.15">**</text>
<rect x="271.80" y="266.10" width="3.10" height="96.50" fill="#143f78" />
<rect x="274.90" y="327.18" width="3.10" height="35.42" fill="#6b8bc4" />
<rect x="278.00" y="345.62" width="3.10" height="16.98" fill="#a7b0d6" />
<rect x="281.10" y="354.98" width="3.10" height="7.62" fill="#d2d2e8" />
<line x1="276.45000000000005" y1="324.579" x2="276.45000000000005" y2="329.79" stroke="#111" stroke-width="0.85"/>
<line x1="275.25000000000006" y1="324.579" x2="277.65000000000003" y2="324.579" stroke="#111" stroke-width="0.85"/>
<line x1="275.25000000000006" y1="329.79" x2="277.65000000000003" y2="329.79" stroke="#111" stroke-width="0.85"/>
<line x1="279.55" y1="340.79100000000005" x2="279.55" y2="350.44100000000003" stroke="#111" stroke-width="0.85"/>
<line x1="278.35" y1="340.79100000000005" x2="280.75" y2="340.79100000000005" stroke="#111" stroke-width="0.85"/>
<line x1="278.35" y1="350.44100000000003" x2="280.75" y2="350.44100000000003" stroke="#111" stroke-width="0.85"/>
<line x1="282.65000000000003" y1="352.564" x2="282.65000000000003" y2="357.38900000000007" stroke="#111" stroke-width="0.85"/>
<line x1="281.45000000000005" y1="352.564" x2="283.85" y2="352.564" stroke="#111" stroke-width="0.85"/>
<line x1="281.45000000000005" y1="357.38900000000007" x2="283.85" y2="357.38900000000007" stroke="#111" stroke-width="0.85"/>
<rect x="289.07" y="266.10" width="3.10" height="96.50" fill="#143f78" />
<rect x="292.17" y="270.93" width="3.10" height="91.68" fill="#6b8bc4" />
<rect x="295.27" y="271.89" width="3.10" height="90.71" fill="#a7b0d6" />
<rect x="298.37" y="274.30" width="3.10" height="88.30" fill="#d2d2e8" />
<line x1="293.72" y1="267.451" x2="293.72" y2="274.399" stroke="#111" stroke-width="0.85"/>
<line x1="292.52000000000004" y1="267.451" x2="294.92" y2="267.451" stroke="#111" stroke-width="0.85"/>
<line x1="292.52000000000004" y1="274.399" x2="294.92" y2="274.399" stroke="#111" stroke-width="0.85"/>
<line x1="296.82" y1="268.22300000000007" x2="296.82" y2="275.557" stroke="#111" stroke-width="0.85"/>
<line x1="295.62" y1="268.22300000000007" x2="298.02" y2="268.22300000000007" stroke="#111" stroke-width="0.85"/>
<line x1="295.62" y1="275.557" x2="298.02" y2="275.557" stroke="#111" stroke-width="0.85"/>
<line x1="299.92" y1="269.8635" x2="299.92" y2="278.74150000000003" stroke="#111" stroke-width="0.85"/>
<line x1="298.72" y1="269.8635" x2="301.12" y2="269.8635" stroke="#111" stroke-width="0.85"/>
<line x1="298.72" y1="278.74150000000003" x2="301.12" y2="278.74150000000003" stroke="#111" stroke-width="0.85"/>
<rect x="306.34" y="266.10" width="3.10" height="96.50" fill="#143f78" />
<rect x="309.44" y="270.93" width="3.10" height="91.68" fill="#6b8bc4" />
<rect x="312.54" y="271.41" width="3.10" height="91.19" fill="#a7b0d6" />
<rect x="315.64" y="275.27" width="3.10" height="87.33" fill="#d2d2e8" />
<line x1="310.99000000000007" y1="267.35450000000003" x2="310.99000000000007" y2="274.4955" stroke="#111" stroke-width="0.85"/>
<line x1="309.7900000000001" y1="267.35450000000003" x2="312.19000000000005" y2="267.35450000000003" stroke="#111" stroke-width="0.85"/>
<line x1="309.7900000000001" y1="274.4955" x2="312.19000000000005" y2="274.4955" stroke="#111" stroke-width="0.85"/>
<line x1="314.09000000000003" y1="270.63550000000004" x2="314.09000000000003" y2="272.1795" stroke="#111" stroke-width="0.85"/>
<line x1="312.89000000000004" y1="270.63550000000004" x2="315.29" y2="270.63550000000004" stroke="#111" stroke-width="0.85"/>
<line x1="312.89000000000004" y1="272.1795" x2="315.29" y2="272.1795" stroke="#111" stroke-width="0.85"/>
<line x1="317.19000000000005" y1="271.11800000000005" x2="317.19000000000005" y2="279.41700000000003" stroke="#111" stroke-width="0.85"/>
<line x1="315.99000000000007" y1="271.11800000000005" x2="318.39000000000004" y2="271.11800000000005" stroke="#111" stroke-width="0.85"/>
<line x1="315.99000000000007" y1="279.41700000000003" x2="318.39000000000004" y2="279.41700000000003" stroke="#111" stroke-width="0.85"/>
<rect x="323.61" y="266.10" width="3.10" height="96.50" fill="#143f78" />
<rect x="326.71" y="309.53" width="3.10" height="53.07" fill="#6b8bc4" />
<rect x="329.81" y="323.04" width="3.10" height="39.56" fill="#a7b0d6" />
<rect x="332.91" y="342.34" width="3.10" height="20.26" fill="#d2d2e8" />
<line x1="328.26000000000005" y1="303.34900000000005" x2="328.26000000000005" y2="315.701" stroke="#111" stroke-width="0.85"/>
<line x1="327.06000000000006" y1="303.34900000000005" x2="329.46000000000004" y2="303.34900000000005" stroke="#111" stroke-width="0.85"/>
<line x1="327.06000000000006" y1="315.701" x2="329.46000000000004" y2="315.701" stroke="#111" stroke-width="0.85"/>
<line x1="331.36" y1="315.315" x2="331.36" y2="330.75500000000005" stroke="#111" stroke-width="0.85"/>
<line x1="330.16" y1="315.315" x2="332.56" y2="315.315" stroke="#111" stroke-width="0.85"/>
<line x1="330.16" y1="330.75500000000005" x2="332.56" y2="330.75500000000005" stroke="#111" stroke-width="0.85"/>
<line x1="334.46000000000004" y1="336.545" x2="334.46000000000004" y2="348.12500000000006" stroke="#111" stroke-width="0.85"/>
<line x1="333.26000000000005" y1="336.545" x2="335.66" y2="336.545" stroke="#111" stroke-width="0.85"/>
<line x1="333.26000000000005" y1="348.12500000000006" x2="335.66" y2="348.12500000000006" stroke="#111" stroke-width="0.85"/>
<rect x="340.88" y="266.10" width="3.10" height="96.50" fill="#143f78" />
<rect x="343.98" y="269.00" width="3.10" height="93.61" fill="#6b8bc4" />
<rect x="347.08" y="271.41" width="3.10" height="91.19" fill="#a7b0d6" />
<rect x="350.18" y="274.40" width="3.10" height="88.20" fill="#d2d2e8" />
<line x1="345.53000000000003" y1="267.644" x2="345.53000000000003" y2="270.346" stroke="#111" stroke-width="0.85"/>
<line x1="344.33000000000004" y1="267.644" x2="346.73" y2="267.644" stroke="#111" stroke-width="0.85"/>
<line x1="344.33000000000004" y1="270.346" x2="346.73" y2="270.346" stroke="#111" stroke-width="0.85"/>
<line x1="348.63" y1="267.5475" x2="348.63" y2="275.26750000000004" stroke="#111" stroke-width="0.85"/>
<line x1="347.43" y1="267.5475" x2="349.83" y2="267.5475" stroke="#111" stroke-width="0.85"/>
<line x1="347.43" y1="275.26750000000004" x2="349.83" y2="275.26750000000004" stroke="#111" stroke-width="0.85"/>
<line x1="351.73" y1="271.4075" x2="351.73" y2="277.3905" stroke="#111" stroke-width="0.85"/>
<line x1="350.53000000000003" y1="271.4075" x2="352.93" y2="271.4075" stroke="#111" stroke-width="0.85"/>
<line x1="350.53000000000003" y1="277.3905" x2="352.93" y2="277.3905" stroke="#111" stroke-width="0.85"/>
<rect x="358.15" y="266.10" width="3.10" height="96.50" fill="#143f78" />
<rect x="361.25" y="267.07" width="3.10" height="95.53" fill="#6b8bc4" />
<rect x="364.35" y="269.48" width="3.10" height="93.12" fill="#a7b0d6" />
<rect x="367.45" y="272.86" width="3.10" height="89.75" fill="#d2d2e8" />
<line x1="362.8" y1="259.4415000000001" x2="362.8" y2="274.68850000000003" stroke="#111" stroke-width="0.85"/>
<line x1="361.6" y1="259.4415000000001" x2="364.0" y2="259.4415000000001" stroke="#111" stroke-width="0.85"/>
<line x1="361.6" y1="274.68850000000003" x2="364.0" y2="274.68850000000003" stroke="#111" stroke-width="0.85"/>
<line x1="365.9" y1="266.3895" x2="365.9" y2="272.56550000000004" stroke="#111" stroke-width="0.85"/>
<line x1="364.7" y1="266.3895" x2="367.09999999999997" y2="266.3895" stroke="#111" stroke-width="0.85"/>
<line x1="364.7" y1="272.56550000000004" x2="367.09999999999997" y2="272.56550000000004" stroke="#111" stroke-width="0.85"/>
<line x1="369.0" y1="268.995" x2="369.0" y2="276.71500000000003" stroke="#111" stroke-width="0.85"/>
<line x1="367.8" y1="268.995" x2="370.2" y2="268.995" stroke="#111" stroke-width="0.85"/>
<line x1="367.8" y1="276.71500000000003" x2="370.2" y2="276.71500000000003" stroke="#111" stroke-width="0.85"/>
<rect x="375.42" y="266.10" width="3.10" height="96.50" fill="#143f78" />
<rect x="378.52" y="267.07" width="3.10" height="95.53" fill="#6b8bc4" />
<rect x="381.62" y="271.89" width="3.10" height="90.71" fill="#a7b0d6" />
<rect x="384.72" y="275.75" width="3.10" height="86.85" fill="#d2d2e8" />
<line x1="380.07000000000005" y1="260.88900000000007" x2="380.07000000000005" y2="273.24100000000004" stroke="#111" stroke-width="0.85"/>
<line x1="378.87000000000006" y1="260.88900000000007" x2="381.27000000000004" y2="260.88900000000007" stroke="#111" stroke-width="0.85"/>
<line x1="378.87000000000006" y1="273.24100000000004" x2="381.27000000000004" y2="273.24100000000004" stroke="#111" stroke-width="0.85"/>
<line x1="383.17" y1="268.802" x2="383.17" y2="274.97800000000007" stroke="#111" stroke-width="0.85"/>
<line x1="381.97" y1="268.802" x2="384.37" y2="268.802" stroke="#111" stroke-width="0.85"/>
<line x1="381.97" y1="274.97800000000007" x2="384.37" y2="274.97800000000007" stroke="#111" stroke-width="0.85"/>
<line x1="386.27000000000004" y1="269.8635" x2="386.27000000000004" y2="281.6365" stroke="#111" stroke-width="0.85"/>
<line x1="385.07000000000005" y1="269.8635" x2="387.47" y2="269.8635" stroke="#111" stroke-width="0.85"/>
<line x1="385.07000000000005" y1="281.6365" x2="387.47" y2="281.6365" stroke="#111" stroke-width="0.85"/>
<rect x="392.69" y="266.10" width="3.10" height="96.50" fill="#143f78" />
<rect x="395.79" y="266.10" width="3.10" height="96.50" fill="#6b8bc4" />
<rect x="398.89" y="268.03" width="3.10" height="94.57" fill="#a7b0d6" />
<rect x="401.99" y="267.55" width="3.10" height="95.05" fill="#d2d2e8" />
<line x1="397.34000000000003" y1="260.9855" x2="397.34000000000003" y2="271.21450000000004" stroke="#111" stroke-width="0.85"/>
<line x1="396.14000000000004" y1="260.9855" x2="398.54" y2="260.9855" stroke="#111" stroke-width="0.85"/>
<line x1="396.14000000000004" y1="271.21450000000004" x2="398.54" y2="271.21450000000004" stroke="#111" stroke-width="0.85"/>
<line x1="400.44" y1="262.52950000000004" x2="400.44" y2="273.5305" stroke="#111" stroke-width="0.85"/>
<line x1="399.24" y1="262.52950000000004" x2="401.64" y2="262.52950000000004" stroke="#111" stroke-width="0.85"/>
<line x1="399.24" y1="273.5305" x2="401.64" y2="273.5305" stroke="#111" stroke-width="0.85"/>
<line x1="403.54" y1="263.4945" x2="403.54" y2="271.6005" stroke="#111" stroke-width="0.85"/>
<line x1="402.34000000000003" y1="263.4945" x2="404.74" y2="263.4945" stroke="#111" stroke-width="0.85"/>
<line x1="402.34000000000003" y1="271.6005" x2="404.74" y2="271.6005" stroke="#111" stroke-width="0.85"/>
<line x1="270.5" y1="244.3" x2="270.5" y2="363.20000000000005" stroke="#111" stroke-width="1.1"/>
<line x1="270.0" y1="362.6" x2="408.0" y2="362.6" stroke="#111" stroke-width="1.1"/>
<line x1="267.0" y1="362.6" x2="270.5" y2="362.6" stroke="#111" stroke-width="1.0"/>
<text x="263.7" y="365.02" font-size="6.9" text-anchor="end" fill="#2a2a2a" textLength="9.3" lengthAdjust="spacingAndGlyphs" stroke="#2a2a2a" stroke-width="0.15">0.0</text>
<line x1="267.0" y1="343.3" x2="270.5" y2="343.3" stroke="#111" stroke-width="1.0"/>
<text x="263.7" y="345.72" font-size="6.9" text-anchor="end" fill="#2a2a2a" textLength="9.3" lengthAdjust="spacingAndGlyphs" stroke="#2a2a2a" stroke-width="0.15">0.2</text>
<line x1="267.0" y1="324.0" x2="270.5" y2="324.0" stroke="#111" stroke-width="1.0"/>
<text x="263.7" y="326.42" font-size="6.9" text-anchor="end" fill="#2a2a2a" textLength="9.3" lengthAdjust="spacingAndGlyphs" stroke="#2a2a2a" stroke-width="0.15">0.4</text>
<line x1="267.0" y1="304.70000000000005" x2="270.5" y2="304.70000000000005" stroke="#111" stroke-width="1.0"/>
<text x="263.7" y="307.12" font-size="6.9" text-anchor="end" fill="#2a2a2a" textLength="9.3" lengthAdjust="spacingAndGlyphs" stroke="#2a2a2a" stroke-width="0.15">0.6</text>
<line x1="267.0" y1="285.40000000000003" x2="270.5" y2="285.40000000000003" stroke="#111" stroke-width="1.0"/>
<text x="263.7" y="287.82" font-size="6.9" text-anchor="end" fill="#2a2a2a" textLength="9.3" lengthAdjust="spacingAndGlyphs" stroke="#2a2a2a" stroke-width="0.15">0.8</text>
<line x1="267.0" y1="266.1" x2="270.5" y2="266.1" stroke="#111" stroke-width="1.0"/>
<text x="263.7" y="268.52" font-size="6.9" text-anchor="end" fill="#2a2a2a" textLength="9.3" lengthAdjust="spacingAndGlyphs" stroke="#2a2a2a" stroke-width="0.15">1.0</text>
<line x1="267.0" y1="246.8" x2="270.5" y2="246.8" stroke="#111" stroke-width="1.0"/>
<text x="263.7" y="249.22" font-size="6.9" text-anchor="end" fill="#2a2a2a" textLength="9.3" lengthAdjust="spacingAndGlyphs" stroke="#2a2a2a" stroke-width="0.15">1.2</text>
<line x1="278.0" y1="362.6" x2="278.0" y2="365.6" stroke="#111" stroke-width="0.9"/>
<line x1="295.27" y1="362.6" x2="295.27" y2="365.6" stroke="#111" stroke-width="0.9"/>
<line x1="312.54" y1="362.6" x2="312.54" y2="365.6" stroke="#111" stroke-width="0.9"/>
<line x1="329.81" y1="362.6" x2="329.81" y2="365.6" stroke="#111" stroke-width="0.9"/>
<line x1="347.08" y1="362.6" x2="347.08" y2="365.6" stroke="#111" stroke-width="0.9"/>
<line x1="364.34999999999997" y1="362.6" x2="364.34999999999997" y2="365.6" stroke="#111" stroke-width="0.9"/>
<line x1="381.62" y1="362.6" x2="381.62" y2="365.6" stroke="#111" stroke-width="0.9"/>
<line x1="398.89" y1="362.6" x2="398.89" y2="365.6" stroke="#111" stroke-width="0.9"/>
<text transform="translate(232.6,303.5) rotate(-90)" x="0" y="2.66" font-size="7.6" text-anchor="middle" fill="#333" textLength="37.5" lengthAdjust="spacingAndGlyphs" stroke="#333" stroke-width="0.15">Viable cells</text>
<text transform="translate(244.5,303.2) rotate(-90)" x="0" y="2.66" font-size="7.6" text-anchor="middle" fill="#333" textLength="60.9" lengthAdjust="spacingAndGlyphs" stroke="#333" stroke-width="0.15">(relative to DMSO)</text>
<text x="278.2" y="323.93" font-size="5.5" text-anchor="middle" fill="#222" stroke="#222" stroke-width="0.15">***</text>
<text x="281.7" y="339.93" font-size="5.5" text-anchor="middle" fill="#222" stroke="#222" stroke-width="0.15">***</text>
<text x="284.3" y="351.93" font-size="5.5" text-anchor="middle" fill="#222" stroke="#222" stroke-width="0.15">***</text>
<text x="329.4" y="301.93" font-size="5.5" text-anchor="middle" fill="#222" stroke="#222" stroke-width="0.15">**</text>
<text x="333.4" y="314.93" font-size="5.5" text-anchor="middle" fill="#222" stroke="#222" stroke-width="0.15">***</text>
<text x="334.2" y="335.73" font-size="5.5" text-anchor="middle" fill="#222" stroke="#222" stroke-width="0.15">***</text>
<text x="201.7" y="251.65" font-size="7.0" text-anchor="middle" fill="#333" textLength="20.2" lengthAdjust="spacingAndGlyphs" stroke="#333" stroke-width="0.15">shBTK</text>
<rect x="191.10" y="259.40" width="5.00" height="5.00" fill="#1f3e78" />
<text x="199.7" y="264.49" font-size="7.4" text-anchor="start" fill="#333" textLength="9.2" lengthAdjust="spacingAndGlyphs" stroke="#333" stroke-width="0.15">D0</text>
<rect x="191.10" y="273.70" width="5.00" height="5.00" fill="#4d5e96" />
<text x="199.7" y="278.79" font-size="7.4" text-anchor="start" fill="#333" textLength="9.2" lengthAdjust="spacingAndGlyphs" stroke="#333" stroke-width="0.15">D3</text>
<rect x="191.10" y="287.90" width="5.00" height="5.00" fill="#8e96c4" />
<text x="199.7" y="292.99" font-size="7.4" text-anchor="start" fill="#333" textLength="9.2" lengthAdjust="spacingAndGlyphs" stroke="#333" stroke-width="0.15">D6</text>
<rect x="191.10" y="302.50" width="5.00" height="5.00" fill="#c9cce5" />
<text x="199.7" y="307.59" font-size="7.4" text-anchor="start" fill="#333" textLength="9.2" lengthAdjust="spacingAndGlyphs" stroke="#333" stroke-width="0.15">D9</text>
<rect x="413.30" y="248.70" width="4.90" height="4.90" fill="#1e3e6a" />
<text x="421.5" y="253.62" font-size="7.2" text-anchor="start" fill="#222" textLength="21.5" lengthAdjust="spacingAndGlyphs" stroke="#222" stroke-width="0.15">DMSO</text>
<rect x="413.30" y="263.40" width="4.90" height="4.90" fill="#4a5270" />
<text x="421.5" y="268.32" font-size="7.2" text-anchor="start" fill="#222" textLength="47.3" lengthAdjust="spacingAndGlyphs" stroke="#222" stroke-width="0.15">10nM Ibrutinib</text>
<rect x="413.30" y="278.00" width="4.90" height="4.90" fill="#7a7a9a" />
<text x="421.5" y="282.92" font-size="7.2" text-anchor="start" fill="#222" textLength="47.3" lengthAdjust="spacingAndGlyphs" stroke="#222" stroke-width="0.15">20nM Ibrutinib</text>
<rect x="413.30" y="292.30" width="4.90" height="4.90" fill="#b8bcd0" />
<text x="421.5" y="297.22" font-size="7.2" text-anchor="start" fill="#222" textLength="47.3" lengthAdjust="spacingAndGlyphs" stroke="#222" stroke-width="0.15">40nM Ibrutinib</text>
<text transform="translate(62.10,374.6) rotate(-45)" x="0" y="0" font-size="7.0" text-anchor="end" fill="#2a2a2a" stroke="#2a2a2a" stroke-width="0.15" textLength="10.5" lengthAdjust="spacingAndGlyphs">Par</text>
<text transform="translate(79.30,374.6) rotate(-45)" x="0" y="0" font-size="7.0" text-anchor="end" fill="#2a2a2a" stroke="#2a2a2a" stroke-width="0.15" textLength="18.3" lengthAdjust="spacingAndGlyphs">IBR#3</text>
<text transform="translate(96.50,374.6) rotate(-45)" x="0" y="0" font-size="7.0" text-anchor="end" fill="#2a2a2a" stroke="#2a2a2a" stroke-width="0.15" textLength="18.3" lengthAdjust="spacingAndGlyphs">IBR#6</text>
<text transform="translate(113.70,374.6) rotate(-45)" x="0" y="0" font-size="7.0" text-anchor="end" fill="#2a2a2a" stroke="#2a2a2a" stroke-width="0.15" textLength="10.5" lengthAdjust="spacingAndGlyphs">Par</text>
<text transform="translate(130.90,374.6) rotate(-45)" x="0" y="0" font-size="7.0" text-anchor="end" fill="#2a2a2a" stroke="#2a2a2a" stroke-width="0.15" textLength="18.3" lengthAdjust="spacingAndGlyphs">IBR#9</text>
<text transform="translate(148.10,374.6) rotate(-45)" x="0" y="0" font-size="7.0" text-anchor="end" fill="#2a2a2a" stroke="#2a2a2a" stroke-width="0.15" textLength="21.6" lengthAdjust="spacingAndGlyphs">IBR#10</text>
<text transform="translate(165.30,374.6) rotate(-45)" x="0" y="0" font-size="7.0" text-anchor="end" fill="#2a2a2a" stroke="#2a2a2a" stroke-width="0.15" textLength="26.3" lengthAdjust="spacingAndGlyphs">SUDHL2</text>
<text transform="translate(182.50,374.6) rotate(-45)" x="0" y="0" font-size="7.0" text-anchor="end" fill="#2a2a2a" stroke="#2a2a2a" stroke-width="0.15" textLength="25.0" lengthAdjust="spacingAndGlyphs">OCI-Ly3</text>
<text transform="translate(281.50,374.6) rotate(-45)" x="0" y="0" font-size="7.0" text-anchor="end" fill="#2a2a2a" stroke="#2a2a2a" stroke-width="0.15" textLength="10.5" lengthAdjust="spacingAndGlyphs">Par</text>
<text transform="translate(298.77,374.6) rotate(-45)" x="0" y="0" font-size="7.0" text-anchor="end" fill="#2a2a2a" stroke="#2a2a2a" stroke-width="0.15" textLength="18.3" lengthAdjust="spacingAndGlyphs">IBR#3</text>
<text transform="translate(316.04,374.6) rotate(-45)" x="0" y="0" font-size="7.0" text-anchor="end" fill="#2a2a2a" stroke="#2a2a2a" stroke-width="0.15" textLength="18.3" lengthAdjust="spacingAndGlyphs">IBR#6</text>
<text transform="translate(333.31,374.6) rotate(-45)" x="0" y="0" font-size="7.0" text-anchor="end" fill="#2a2a2a" stroke="#2a2a2a" stroke-width="0.15" textLength="10.5" lengthAdjust="spacingAndGlyphs">Par</text>
<text transform="translate(350.58,374.6) rotate(-45)" x="0" y="0" font-size="7.0" text-anchor="end" fill="#2a2a2a" stroke="#2a2a2a" stroke-width="0.15" textLength="18.3" lengthAdjust="spacingAndGlyphs">IBR#9</text>
<text transform="translate(367.85,374.6) rotate(-45)" x="0" y="0" font-size="7.0" text-anchor="end" fill="#2a2a2a" stroke="#2a2a2a" stroke-width="0.15" textLength="21.6" lengthAdjust="spacingAndGlyphs">IBR#10</text>
<text transform="translate(385.12,374.6) rotate(-45)" x="0" y="0" font-size="7.0" text-anchor="end" fill="#2a2a2a" stroke="#2a2a2a" stroke-width="0.15" textLength="26.3" lengthAdjust="spacingAndGlyphs">SUDHL2</text>
<text transform="translate(402.39,374.6) rotate(-45)" x="0" y="0" font-size="7.0" text-anchor="end" fill="#2a2a2a" stroke="#2a2a2a" stroke-width="0.15" textLength="25.0" lengthAdjust="spacingAndGlyphs">OCI-Ly3</text>
<line x1="51.7" y1="394.5" x2="99.4" y2="394.5" stroke="#1a1a1a" stroke-width="1.0"/>
<text x="75.6" y="406.10" font-size="10.0" text-anchor="middle" fill="#1a1a1a" textLength="19.6" lengthAdjust="spacingAndGlyphs" stroke="#1a1a1a" stroke-width="0.15">TMD8</text>
<line x1="104.0" y1="394.5" x2="144.0" y2="394.5" stroke="#1a1a1a" stroke-width="1.0"/>
<text x="124.6" y="406.10" font-size="10.0" text-anchor="middle" fill="#1a1a1a" textLength="29.4" lengthAdjust="spacingAndGlyphs" stroke="#1a1a1a" stroke-width="0.15">OCI-Ly10</text>
<line x1="271.0" y1="394.5" x2="318.8" y2="394.5" stroke="#1a1a1a" stroke-width="1.0"/>
<text x="295.0" y="406.10" font-size="10.0" text-anchor="middle" fill="#1a1a1a" textLength="19.6" lengthAdjust="spacingAndGlyphs" stroke="#1a1a1a" stroke-width="0.15">TMD8</text>
<line x1="324.3" y1="394.5" x2="363.4" y2="394.5" stroke="#1a1a1a" stroke-width="1.0"/>
<text x="344.0" y="406.10" font-size="10.0" text-anchor="middle" fill="#1a1a1a" textLength="29.4" lengthAdjust="spacingAndGlyphs" stroke="#1a1a1a" stroke-width="0.15">OCI-Ly10</text>
<text x="243.7" y="390.66" font-size="7.6" text-anchor="middle" fill="#2a2a2a" textLength="17.6" lengthAdjust="spacingAndGlyphs" stroke="#2a2a2a" stroke-width="0.15">EGR1</text>
<text x="66.3" y="450.83" font-size="9.8" text-anchor="middle" fill="#1a1a1a" textLength="22.9" lengthAdjust="spacingAndGlyphs" stroke="#1a1a1a" stroke-width="0.15">Rec-1</text>
<text x="121.4" y="450.83" font-size="9.8" text-anchor="middle" fill="#1a1a1a" textLength="23.3" lengthAdjust="spacingAndGlyphs" stroke="#1a1a1a" stroke-width="0.15">JeKO</text>
<line x1="47.7" y1="455.5" x2="85.9" y2="455.5" stroke="#1a1a1a" stroke-width="1.0"/>
<line x1="102.6" y1="455.5" x2="140.8" y2="455.5" stroke="#1a1a1a" stroke-width="1.0"/>
<text x="55.3" y="465.59" font-size="7.4" text-anchor="middle" fill="#1a1a1a" textLength="11.7" lengthAdjust="spacingAndGlyphs" stroke="#1a1a1a" stroke-width="0.15">Par</text>
<text x="77.0" y="465.59" font-size="7.4" text-anchor="middle" fill="#1a1a1a" textLength="10.6" lengthAdjust="spacingAndGlyphs" stroke="#1a1a1a" stroke-width="0.15">IBR</text>
<text x="109.8" y="465.59" font-size="7.4" text-anchor="middle" fill="#1a1a1a" textLength="11.7" lengthAdjust="spacingAndGlyphs" stroke="#1a1a1a" stroke-width="0.15">Par</text>
<text x="132.5" y="465.59" font-size="7.4" text-anchor="middle" fill="#1a1a1a" textLength="10.6" lengthAdjust="spacingAndGlyphs" stroke="#1a1a1a" stroke-width="0.15">IBR</text>
<rect x="43.40" y="469.00" width="45.60" height="17.00" fill="#efefef" stroke="#111" stroke-width="1.3" />
<rect x="97.90" y="469.00" width="45.70" height="17.00" fill="#efefef" stroke="#111" stroke-width="1.3" />
<rect x="43.40" y="502.40" width="45.60" height="14.00" fill="#f1f1f1" stroke="#111" stroke-width="1.3" />
<rect x="97.90" y="502.40" width="45.70" height="14.00" fill="#f1f1f1" stroke="#111" stroke-width="1.3" />
<rect x="45.30" y="475.90" width="16.90" height="3.80" rx="1.71" fill="url(#vg)" fill-opacity="0.55"/>
<rect x="66.40" y="474.70" width="19.10" height="5.00" rx="2.25" fill="url(#vg)" fill-opacity="0.88"/>
<rect x="103.50" y="475.90" width="11.60" height="3.80" rx="1.71" fill="url(#vg)" fill-opacity="0.22"/>
<rect x="124.60" y="474.80" width="14.80" height="4.80" rx="2.16" fill="url(#vg)" fill-opacity="0.92"/>
<rect x="45.30" y="506.90" width="16.90" height="6.60" rx="2.97" fill="url(#vg)" fill-opacity="0.97"/>
<rect x="67.50" y="507.20" width="15.90" height="6.00" rx="2.70" fill="url(#vg)" fill-opacity="0.95"/>
<rect x="101.40" y="507.00" width="17.90" height="6.00" rx="2.70" fill="url(#vg)" fill-opacity="0.95"/>
<rect x="122.60" y="506.90" width="18.90" height="6.20" rx="2.79" fill="url(#vg)" fill-opacity="0.95"/>
<text x="53.2" y="494.72" font-size="7.2" text-anchor="middle" fill="#2e2e2e" textLength="13.8" lengthAdjust="spacingAndGlyphs" stroke="#2e2e2e" stroke-width="0.08">1.00</text>
<text x="74.0" y="494.72" font-size="7.2" text-anchor="middle" fill="#2e2e2e" textLength="13.8" lengthAdjust="spacingAndGlyphs" stroke="#2e2e2e" stroke-width="0.08">1.80</text>
<text x="111.4" y="494.72" font-size="7.2" text-anchor="middle" fill="#2e2e2e" textLength="13.8" lengthAdjust="spacingAndGlyphs" stroke="#2e2e2e" stroke-width="0.08">1.00</text>
<text x="132.0" y="494.72" font-size="7.2" text-anchor="middle" fill="#2e2e2e" textLength="13.8" lengthAdjust="spacingAndGlyphs" stroke="#2e2e2e" stroke-width="0.08">2.42</text>
<text x="41.3" y="481.56" font-size="9.6" text-anchor="end" fill="#1a1a1a" textLength="23.8" lengthAdjust="spacingAndGlyphs" stroke="#1a1a1a" stroke-width="0.15">EGR1</text>
<text x="42.0" y="513.06" font-size="9.6" text-anchor="end" fill="#1a1a1a" textLength="30.2" lengthAdjust="spacingAndGlyphs" stroke="#1a1a1a" stroke-width="0.15">β-Actin</text>
<text x="275.3" y="434.29" font-size="9.4" text-anchor="middle" fill="#1a1a1a" textLength="57.9" lengthAdjust="spacingAndGlyphs" stroke="#1a1a1a" stroke-width="0.15">Ibrutinib (μM)</text>
<line x1="230.2" y1="439.5" x2="319.8" y2="439.5" stroke="#1a1a1a" stroke-width="1.0"/>
<text x="232.2" y="449.12" font-size="7.2" text-anchor="middle" fill="#1a1a1a" textLength="3.4" lengthAdjust="spacingAndGlyphs" stroke="#1a1a1a" stroke-width="0.15">0</text>
<text x="248.0" y="449.12" font-size="7.2" text-anchor="middle" fill="#1a1a1a" textLength="13.2" lengthAdjust="spacingAndGlyphs" stroke="#1a1a1a" stroke-width="0.15">0.63</text>
<text x="268.5" y="449.12" font-size="7.2" text-anchor="middle" fill="#1a1a1a" textLength="13.7" lengthAdjust="spacingAndGlyphs" stroke="#1a1a1a" stroke-width="0.15">1.25</text>
<text x="286.2" y="449.12" font-size="7.2" text-anchor="middle" fill="#1a1a1a" textLength="10.2" lengthAdjust="spacingAndGlyphs" stroke="#1a1a1a" stroke-width="0.15">2.5</text>
<text x="299.5" y="449.12" font-size="7.2" text-anchor="middle" fill="#1a1a1a" textLength="3.4" lengthAdjust="spacingAndGlyphs" stroke="#1a1a1a" stroke-width="0.15">5</text>
<text x="312.2" y="449.12" font-size="7.2" text-anchor="middle" fill="#1a1a1a" textLength="7.2" lengthAdjust="spacingAndGlyphs" stroke="#1a1a1a" stroke-width="0.15">10</text>
<text x="439.6" y="434.29" font-size="9.4" text-anchor="middle" fill="#1a1a1a" textLength="57.0" lengthAdjust="spacingAndGlyphs" stroke="#1a1a1a" stroke-width="0.15">Ibrutinib (μM)</text>
<line x1="395.0" y1="439.5" x2="484.4" y2="439.5" stroke="#1a1a1a" stroke-width="1.0"/>
<text x="398.5" y="449.12" font-size="7.2" text-anchor="middle" fill="#1a1a1a" textLength="3.4" lengthAdjust="spacingAndGlyphs" stroke="#1a1a1a" stroke-width="0.15">0</text>
<text x="414.0" y="449.12" font-size="7.2" text-anchor="middle" fill="#1a1a1a" textLength="13.2" lengthAdjust="spacingAndGlyphs" stroke="#1a1a1a" stroke-width="0.15">0.63</text>
<text x="435.0" y="449.12" font-size="7.2" text-anchor="middle" fill="#1a1a1a" textLength="13.7" lengthAdjust="spacingAndGlyphs" stroke="#1a1a1a" stroke-width="0.15">1.25</text>
<text x="452.0" y="449.12" font-size="7.2" text-anchor="middle" fill="#1a1a1a" textLength="10.2" lengthAdjust="spacingAndGlyphs" stroke="#1a1a1a" stroke-width="0.15">2.5</text>
<text x="465.0" y="449.12" font-size="7.2" text-anchor="middle" fill="#1a1a1a" textLength="3.4" lengthAdjust="spacingAndGlyphs" stroke="#1a1a1a" stroke-width="0.15">5</text>
<text x="477.5" y="449.12" font-size="7.2" text-anchor="middle" fill="#1a1a1a" textLength="7.2" lengthAdjust="spacingAndGlyphs" stroke="#1a1a1a" stroke-width="0.15">10</text>
<rect x="225.70" y="452.10" width="98.20" height="17.10" fill="#efefef" stroke="#111" stroke-width="1.3" />
<rect x="225.70" y="478.20" width="98.20" height="17.10" fill="#f0f0f0" stroke="#111" stroke-width="1.3" />
<rect x="225.40" y="501.50" width="97.80" height="16.80" fill="#efefef" stroke="#111" stroke-width="1.3" />
<rect x="225.40" y="527.20" width="97.80" height="17.10" fill="#f0f0f0" stroke="#111" stroke-width="1.3" />
<rect x="229.10" y="460.40" width="11.20" height="3.80" rx="1.71" fill="url(#vg)" fill-opacity="0.6"/>
<rect x="246.50" y="459.80" width="12.20" height="4.40" rx="1.98" fill="url(#vg)" fill-opacity="0.8"/>
<rect x="263.80" y="459.10" width="12.20" height="5.80" rx="2.61" fill="url(#vg)" fill-opacity="0.97"/>
<rect x="278.00" y="458.50" width="13.30" height="6.60" rx="2.97" fill="url(#vg)" fill-opacity="0.98"/>
<rect x="294.40" y="459.30" width="11.20" height="5.40" rx="2.43" fill="url(#vg)" fill-opacity="0.95"/>
<rect x="309.60" y="458.90" width="12.30" height="5.80" rx="2.61" fill="url(#vg)" fill-opacity="0.96"/>
<rect x="228.10" y="483.60" width="14.30" height="5.80" rx="2.61" fill="url(#vg)" fill-opacity="0.9"/>
<rect x="246.50" y="483.00" width="14.20" height="7.40" rx="3.33" fill="url(#vg)" fill-opacity="0.98"/>
<rect x="263.80" y="483.10" width="12.20" height="7.20" rx="3.24" fill="url(#vg)" fill-opacity="0.98"/>
<rect x="278.00" y="483.00" width="13.30" height="7.40" rx="3.33" fill="url(#vg)" fill-opacity="0.98"/>
<rect x="294.40" y="483.20" width="12.20" height="7.00" rx="3.15" fill="url(#vg)" fill-opacity="0.98"/>
<rect x="309.60" y="483.10" width="12.30" height="7.20" rx="3.24" fill="url(#vg)" fill-opacity="0.98"/>
<rect x="228.10" y="508.80" width="13.30" height="5.80" rx="2.61" fill="url(#vg)" fill-opacity="0.95"/>
<rect x="245.40" y="508.70" width="12.30" height="6.40" rx="2.88" fill="url(#vg)" fill-opacity="0.95"/>
<rect x="259.70" y="508.90" width="14.30" height="5.60" rx="2.52" fill="url(#vg)" fill-opacity="0.85"/>
<rect x="277.00" y="507.50" width="12.30" height="5.80" rx="2.61" fill="url(#vg)" fill-opacity="0.95"/>
<rect x="292.30" y="508.80" width="12.30" height="5.40" rx="2.43" fill="url(#vg)" fill-opacity="0.9"/>
<rect x="308.60" y="508.80" width="10.20" height="5.00" rx="2.25" fill="url(#vg)" fill-opacity="0.85"/>
<rect x="228.10" y="533.20" width="13.30" height="5.00" rx="2.25" fill="url(#vg)" fill-opacity="0.9"/>
<rect x="245.40" y="532.80" width="12.30" height="6.20" rx="2.79" fill="url(#vg)" fill-opacity="0.95"/>
<rect x="260.70" y="532.80" width="13.30" height="5.80" rx="2.61" fill="url(#vg)" fill-opacity="0.92"/>
<rect x="276.60" y="532.60" width="12.70" height="5.80" rx="2.61" fill="url(#vg)" fill-opacity="0.95"/>
<rect x="292.30" y="532.70" width="13.30" height="6.00" rx="2.70" fill="url(#vg)" fill-opacity="0.95"/>
<rect x="308.60" y="532.20" width="11.60" height="6.20" rx="2.79" fill="url(#vg)" fill-opacity="0.95"/>
<text x="233.4" y="476.95" font-size="7.0" text-anchor="middle" fill="#2e2e2e" textLength="13.7" lengthAdjust="spacingAndGlyphs" stroke="#2e2e2e" stroke-width="0.08">1.00</text>
<text x="249.1" y="476.95" font-size="7.0" text-anchor="middle" fill="#2e2e2e" textLength="13.7" lengthAdjust="spacingAndGlyphs" stroke="#2e2e2e" stroke-width="0.08">1.16</text>
<text x="266.9" y="476.95" font-size="7.0" text-anchor="middle" fill="#2e2e2e" textLength="13.7" lengthAdjust="spacingAndGlyphs" stroke="#2e2e2e" stroke-width="0.08">2.01</text>
<text x="283.5" y="476.95" font-size="7.0" text-anchor="middle" fill="#2e2e2e" textLength="13.7" lengthAdjust="spacingAndGlyphs" stroke="#2e2e2e" stroke-width="0.08">2.43</text>
<text x="299.3" y="476.95" font-size="7.0" text-anchor="middle" fill="#2e2e2e" textLength="13.7" lengthAdjust="spacingAndGlyphs" stroke="#2e2e2e" stroke-width="0.08">2.18</text>
<text x="315.5" y="476.95" font-size="7.0" text-anchor="middle" fill="#2e2e2e" textLength="13.7" lengthAdjust="spacingAndGlyphs" stroke="#2e2e2e" stroke-width="0.08">2.17</text>
<text x="233.9" y="525.35" font-size="7.0" text-anchor="middle" fill="#2e2e2e" textLength="13.9" lengthAdjust="spacingAndGlyphs" stroke="#2e2e2e" stroke-width="0.08">1.00</text>
<text x="250.0" y="525.35" font-size="7.0" text-anchor="middle" fill="#2e2e2e" textLength="13.9" lengthAdjust="spacingAndGlyphs" stroke="#2e2e2e" stroke-width="0.08">0.87</text>
<text x="266.3" y="525.35" font-size="7.0" text-anchor="middle" fill="#2e2e2e" textLength="13.9" lengthAdjust="spacingAndGlyphs" stroke="#2e2e2e" stroke-width="0.08">0.71</text>
<text x="282.5" y="525.35" font-size="7.0" text-anchor="middle" fill="#2e2e2e" textLength="13.9" lengthAdjust="spacingAndGlyphs" stroke="#2e2e2e" stroke-width="0.08">0.72</text>
<text x="298.0" y="525.35" font-size="7.0" text-anchor="middle" fill="#2e2e2e" textLength="13.9" lengthAdjust="spacingAndGlyphs" stroke="#2e2e2e" stroke-width="0.08">0.61</text>
<text x="314.1" y="525.35" font-size="7.0" text-anchor="middle" fill="#2e2e2e" textLength="13.9" lengthAdjust="spacingAndGlyphs" stroke="#2e2e2e" stroke-width="0.08">0.38</text>
<text x="221.7" y="464.16" font-size="9.6" text-anchor="end" fill="#1a1a1a" textLength="23.0" lengthAdjust="spacingAndGlyphs" stroke="#1a1a1a" stroke-width="0.15">EGR1</text>
<text x="221.7" y="516.26" font-size="9.6" text-anchor="end" fill="#1a1a1a" textLength="23.0" lengthAdjust="spacingAndGlyphs" stroke="#1a1a1a" stroke-width="0.15">EGR1</text>
<text x="222.4" y="489.76" font-size="9.6" text-anchor="end" fill="#1a1a1a" textLength="30.5" lengthAdjust="spacingAndGlyphs" stroke="#1a1a1a" stroke-width="0.15">β-Actin</text>
<text x="222.4" y="539.66" font-size="9.6" text-anchor="end" fill="#1a1a1a" textLength="30.5" lengthAdjust="spacingAndGlyphs" stroke="#1a1a1a" stroke-width="0.15">β-Actin</text>
<line x1="188.5" y1="457.2" x2="188.5" y2="492.8" stroke="#1a1a1a" stroke-width="1.0"/>
<line x1="188.5" y1="507.5" x2="188.5" y2="543.2" stroke="#1a1a1a" stroke-width="1.0"/>
<text x="172.6" y="472.56" font-size="9.6" text-anchor="middle" fill="#1a1a1a" textLength="22.5" lengthAdjust="spacingAndGlyphs" stroke="#1a1a1a" stroke-width="0.15">Rec-1</text>
<text x="173.0" y="483.93" font-size="9.8" text-anchor="middle" fill="#1a1a1a" textLength="13.8" lengthAdjust="spacingAndGlyphs" stroke="#1a1a1a" stroke-width="0.15">IBR</text>
<text x="172.6" y="522.56" font-size="9.6" text-anchor="middle" fill="#1a1a1a" textLength="22.5" lengthAdjust="spacingAndGlyphs" stroke="#1a1a1a" stroke-width="0.15">Rec-1</text>
<text x="173.0" y="534.03" font-size="9.8" text-anchor="middle" fill="#1a1a1a" textLength="14.8" lengthAdjust="spacingAndGlyphs" stroke="#1a1a1a" stroke-width="0.15">Par</text>
<rect x="390.40" y="451.60" width="97.60" height="16.40" fill="#e5e5e5" stroke="#111" stroke-width="1.3" />
<rect x="390.40" y="479.00" width="97.60" height="17.00" fill="#eeeeee" stroke="#111" stroke-width="1.3" />
<rect x="389.80" y="501.50" width="82.20" height="17.00" fill="#f0f0f0" stroke="#111" stroke-width="1.3" />
<rect x="389.80" y="527.20" width="82.20" height="16.40" fill="#ebebeb" stroke="#111" stroke-width="1.3" />
<rect x="394.00" y="459.10" width="12.00" height="3.80" rx="1.71" fill="url(#vg)" fill-opacity="0.75"/>
<rect x="411.00" y="459.00" width="12.00" height="4.40" rx="1.98" fill="url(#vg)" fill-opacity="0.8"/>
<rect x="427.00" y="458.60" width="13.00" height="4.80" rx="2.16" fill="url(#vg)" fill-opacity="0.88"/>
<rect x="444.00" y="458.10" width="11.00" height="5.40" rx="2.43" fill="url(#vg)" fill-opacity="0.96"/>
<rect x="459.00" y="458.60" width="11.00" height="4.80" rx="2.16" fill="url(#vg)" fill-opacity="0.92"/>
<rect x="475.00" y="457.70" width="11.00" height="5.80" rx="2.61" fill="url(#vg)" fill-opacity="0.97"/>
<rect x="393.00" y="484.70" width="13.00" height="7.40" rx="3.33" fill="url(#vg)" fill-opacity="0.97"/>
<rect x="410.00" y="485.10" width="12.00" height="7.40" rx="3.33" fill="url(#vg)" fill-opacity="0.97"/>
<rect x="427.00" y="484.90" width="12.00" height="7.40" rx="3.33" fill="url(#vg)" fill-opacity="0.97"/>
<rect x="443.00" y="484.50" width="11.00" height="7.40" rx="3.33" fill="url(#vg)" fill-opacity="0.97"/>
<rect x="459.00" y="484.70" width="12.00" height="7.00" rx="3.15" fill="url(#vg)" fill-opacity="0.97"/>
<rect x="475.00" y="484.20" width="11.00" height="7.60" rx="3.42" fill="url(#vg)" fill-opacity="0.97"/>
<rect x="392.90" y="508.80" width="10.40" height="4.80" rx="2.16" fill="url(#vg)" fill-opacity="0.92"/>
<rect x="408.50" y="508.70" width="11.20" height="5.40" rx="2.43" fill="url(#vg)" fill-opacity="0.92"/>
<rect x="424.10" y="509.20" width="9.50" height="4.80" rx="2.16" fill="url(#vg)" fill-opacity="0.88"/>
<rect x="438.80" y="509.30" width="11.20" height="3.80" rx="1.71" fill="url(#vg)" fill-opacity="0.15"/>
<rect x="457.00" y="509.50" width="6.90" height="3.40" rx="1.53" fill="url(#vg)" fill-opacity="0.08"/>
<rect x="392.00" y="532.00" width="12.20" height="8.40" rx="3.78" fill="url(#vg)" fill-opacity="0.98"/>
<rect x="407.60" y="532.00" width="12.10" height="8.40" rx="3.78" fill="url(#vg)" fill-opacity="0.98"/>
<rect x="423.20" y="532.40" width="12.10" height="8.40" rx="3.78" fill="url(#vg)" fill-opacity="0.98"/>
<rect x="437.90" y="533.10" width="13.90" height="7.40" rx="3.33" fill="url(#vg)" fill-opacity="0.98"/>
<rect x="456.10" y="531.40" width="13.00" height="8.40" rx="3.78" fill="url(#vg)" fill-opacity="0.98"/>
<text x="398.5" y="476.05" font-size="7.0" text-anchor="middle" fill="#2e2e2e" textLength="13.2" lengthAdjust="spacingAndGlyphs" stroke="#2e2e2e" stroke-width="0.08">1.00</text>
<text x="414.0" y="476.05" font-size="7.0" text-anchor="middle" fill="#2e2e2e" textLength="13.2" lengthAdjust="spacingAndGlyphs" stroke="#2e2e2e" stroke-width="0.08">1.29</text>
<text x="432.5" y="476.05" font-size="7.0" text-anchor="middle" fill="#2e2e2e" textLength="13.2" lengthAdjust="spacingAndGlyphs" stroke="#2e2e2e" stroke-width="0.08">1.28</text>
<text x="447.5" y="476.05" font-size="7.0" text-anchor="middle" fill="#2e2e2e" textLength="13.2" lengthAdjust="spacingAndGlyphs" stroke="#2e2e2e" stroke-width="0.08">1.73</text>
<text x="463.5" y="476.05" font-size="7.0" text-anchor="middle" fill="#2e2e2e" textLength="13.2" lengthAdjust="spacingAndGlyphs" stroke="#2e2e2e" stroke-width="0.08">1.57</text>
<text x="480.5" y="476.05" font-size="7.0" text-anchor="middle" fill="#2e2e2e" textLength="13.2" lengthAdjust="spacingAndGlyphs" stroke="#2e2e2e" stroke-width="0.08">1.69</text>
<text x="398.1" y="525.25" font-size="7.0" text-anchor="middle" fill="#2e2e2e" textLength="13.6" lengthAdjust="spacingAndGlyphs" stroke="#2e2e2e" stroke-width="0.08">1.00</text>
<text x="414.1" y="525.25" font-size="7.0" text-anchor="middle" fill="#2e2e2e" textLength="13.6" lengthAdjust="spacingAndGlyphs" stroke="#2e2e2e" stroke-width="0.08">1.25</text>
<text x="430.1" y="525.25" font-size="7.0" text-anchor="middle" fill="#2e2e2e" textLength="13.6" lengthAdjust="spacingAndGlyphs" stroke="#2e2e2e" stroke-width="0.08">0.76</text>
<text x="448.3" y="525.25" font-size="7.0" text-anchor="middle" fill="#2e2e2e" textLength="13.6" lengthAdjust="spacingAndGlyphs" stroke="#2e2e2e" stroke-width="0.08">0.20</text>
<text x="464.0" y="525.25" font-size="7.0" text-anchor="middle" fill="#2e2e2e" textLength="13.6" lengthAdjust="spacingAndGlyphs" stroke="#2e2e2e" stroke-width="0.08">0.05</text>
<text x="387.6" y="464.86" font-size="9.6" text-anchor="end" fill="#1a1a1a" textLength="22.8" lengthAdjust="spacingAndGlyphs" stroke="#1a1a1a" stroke-width="0.15">EGR1</text>
<text x="388.1" y="490.06" font-size="9.6" text-anchor="end" fill="#1a1a1a" textLength="30.2" lengthAdjust="spacingAndGlyphs" stroke="#1a1a1a" stroke-width="0.15">β-Actin</text>
<text x="386.0" y="513.16" font-size="9.6" text-anchor="end" fill="#1a1a1a" textLength="22.5" lengthAdjust="spacingAndGlyphs" stroke="#1a1a1a" stroke-width="0.15">EGR1</text>
<text x="386.0" y="538.36" font-size="9.6" text-anchor="end" fill="#1a1a1a" textLength="30.2" lengthAdjust="spacingAndGlyphs" stroke="#1a1a1a" stroke-width="0.15">β-Actin</text>
<line x1="354.5" y1="457.5" x2="354.5" y2="493.0" stroke="#444" stroke-width="1.0"/>
<line x1="353.5" y1="505.6" x2="353.5" y2="544.2" stroke="#444" stroke-width="1.0"/>
<text x="339.0" y="473.16" font-size="9.6" text-anchor="middle" fill="#1a1a1a" textLength="24.0" lengthAdjust="spacingAndGlyphs" stroke="#1a1a1a" stroke-width="0.15">JeKO</text>
<text x="339.4" y="484.73" font-size="9.8" text-anchor="middle" fill="#1a1a1a" textLength="13.8" lengthAdjust="spacingAndGlyphs" stroke="#1a1a1a" stroke-width="0.15">IBR</text>
<text x="337.7" y="520.76" font-size="9.6" text-anchor="middle" fill="#1a1a1a" textLength="23.0" lengthAdjust="spacingAndGlyphs" stroke="#1a1a1a" stroke-width="0.15">JeKO</text>
<text x="337.5" y="532.03" font-size="9.8" text-anchor="middle" fill="#1a1a1a" textLength="13.6" lengthAdjust="spacingAndGlyphs" stroke="#1a1a1a" stroke-width="0.15">Par</text>
<text x="95.5" y="573.33" font-size="9.8" text-anchor="middle" fill="#1a1a1a" textLength="27.8" lengthAdjust="spacingAndGlyphs" stroke="#1a1a1a" stroke-width="0.15">MCL-4</text>
<text x="95.5" y="587.69" font-size="9.4" text-anchor="middle" fill="#1a1a1a" textLength="57.7" lengthAdjust="spacingAndGlyphs" stroke="#1a1a1a" stroke-width="0.15">Ibrutinib (μM)</text>
<line x1="65.8" y1="592.5" x2="125.7" y2="592.5" stroke="#1a1a1a" stroke-width="1.0"/>
<text x="70.8" y="603.42" font-size="7.2" text-anchor="middle" fill="#1a1a1a" textLength="3.6" lengthAdjust="spacingAndGlyphs" stroke="#1a1a1a" stroke-width="0.15">0</text>
<text x="86.2" y="603.42" font-size="7.2" text-anchor="middle" fill="#1a1a1a" textLength="2.6" lengthAdjust="spacingAndGlyphs" stroke="#1a1a1a" stroke-width="0.15">1</text>
<text x="102.9" y="603.42" font-size="7.2" text-anchor="middle" fill="#1a1a1a" textLength="10.2" lengthAdjust="spacingAndGlyphs" stroke="#1a1a1a" stroke-width="0.15">2.5</text>
<text x="120.1" y="603.42" font-size="7.2" text-anchor="middle" fill="#1a1a1a" textLength="10.8" lengthAdjust="spacingAndGlyphs" stroke="#1a1a1a" stroke-width="0.15">5.0</text>
<rect x="57.30" y="607.30" width="73.40" height="21.10" fill="url(#gbg)" stroke="#111" stroke-width="1.15" />
<rect x="57.30" y="642.40" width="73.40" height="21.40" fill="#ededed" stroke="#111" stroke-width="1.15" />
<rect x="62.70" y="617.70" width="12.30" height="3.80" rx="1.71" fill="url(#vg)" fill-opacity="0.65"/>
<rect x="79.60" y="617.00" width="12.30" height="4.80" rx="2.16" fill="url(#vg)" fill-opacity="0.95"/>
<rect x="96.50" y="617.00" width="12.30" height="4.40" rx="1.98" fill="url(#vg)" fill-opacity="0.9"/>
<rect x="113.50" y="616.90" width="13.80" height="3.80" rx="1.71" fill="url(#vg)" fill-opacity="0.7"/>
<rect x="59.60" y="651.80" width="16.90" height="7.60" rx="3.42" fill="url(#vg)" fill-opacity="0.98"/>
<rect x="77.30" y="651.50" width="14.60" height="7.60" rx="3.42" fill="url(#vg)" fill-opacity="0.98"/>
<rect x="93.50" y="650.60" width="14.60" height="7.20" rx="3.24" fill="url(#vg)" fill-opacity="0.98"/>
<rect x="111.20" y="649.00" width="17.60" height="7.20" rx="3.24" fill="url(#vg)" fill-opacity="0.98"/>
<text x="67.3" y="637.92" font-size="7.2" text-anchor="middle" fill="#2e2e2e" textLength="13.8" lengthAdjust="spacingAndGlyphs" stroke="#2e2e2e" stroke-width="0.08">1.00</text>
<text x="85.0" y="637.92" font-size="7.2" text-anchor="middle" fill="#2e2e2e" textLength="13.8" lengthAdjust="spacingAndGlyphs" stroke="#2e2e2e" stroke-width="0.08">2.65</text>
<text x="103.3" y="637.92" font-size="7.2" text-anchor="middle" fill="#2e2e2e" textLength="13.8" lengthAdjust="spacingAndGlyphs" stroke="#2e2e2e" stroke-width="0.08">2.62</text>
<text x="121.2" y="637.92" font-size="7.2" text-anchor="middle" fill="#2e2e2e" textLength="13.8" lengthAdjust="spacingAndGlyphs" stroke="#2e2e2e" stroke-width="0.08">1.40</text>
<text x="174.6" y="573.33" font-size="9.8" text-anchor="middle" fill="#1a1a1a" textLength="27.8" lengthAdjust="spacingAndGlyphs" stroke="#1a1a1a" stroke-width="0.15">MCL-5</text>
<text x="174.6" y="587.69" font-size="9.4" text-anchor="middle" fill="#1a1a1a" textLength="57.7" lengthAdjust="spacingAndGlyphs" stroke="#1a1a1a" stroke-width="0.15">Ibrutinib (μM)</text>
<line x1="142.7" y1="592.5" x2="208.1" y2="592.5" stroke="#1a1a1a" stroke-width="1.0"/>
<text x="145.1" y="603.42" font-size="7.2" text-anchor="middle" fill="#1a1a1a" textLength="3.6" lengthAdjust="spacingAndGlyphs" stroke="#1a1a1a" stroke-width="0.15">0</text>
<text x="159.9" y="603.42" font-size="7.2" text-anchor="middle" fill="#1a1a1a" textLength="2.6" lengthAdjust="spacingAndGlyphs" stroke="#1a1a1a" stroke-width="0.15">1</text>
<text x="178.5" y="603.42" font-size="7.2" text-anchor="middle" fill="#1a1a1a" textLength="10.2" lengthAdjust="spacingAndGlyphs" stroke="#1a1a1a" stroke-width="0.15">2.5</text>
<text x="201.8" y="603.42" font-size="7.2" text-anchor="middle" fill="#1a1a1a" textLength="10.8" lengthAdjust="spacingAndGlyphs" stroke="#1a1a1a" stroke-width="0.15">5.0</text>
<rect x="134.40" y="607.30" width="78.40" height="21.10" fill="url(#gbg)" stroke="#111" stroke-width="1.15" />
<rect x="134.40" y="642.40" width="78.40" height="21.40" fill="#ededed" stroke="#111" stroke-width="1.15" />
<rect x="139.30" y="617.80" width="11.30" height="3.60" rx="1.62" fill="url(#vg)" fill-opacity="0.15"/>
<rect x="156.20" y="617.40" width="13.80" height="4.40" rx="1.98" fill="url(#vg)" fill-opacity="0.6"/>
<rect x="175.60" y="617.00" width="14.60" height="4.80" rx="2.16" fill="url(#vg)" fill-opacity="0.95"/>
<rect x="195.80" y="616.50" width="14.60" height="4.80" rx="2.16" fill="url(#vg)" fill-opacity="0.9"/>
<rect x="139.30" y="651.60" width="13.70" height="3.80" rx="1.71" fill="url(#vg)" fill-opacity="0.6"/>
<rect x="158.70" y="651.10" width="12.90" height="4.80" rx="2.16" fill="url(#vg)" fill-opacity="0.9"/>
<rect x="176.40" y="651.60" width="11.30" height="3.80" rx="1.71" fill="url(#vg)" fill-opacity="0.6"/>
<rect x="195.80" y="650.50" width="12.90" height="3.80" rx="1.71" fill="url(#vg)" fill-opacity="0.65"/>
<text x="142.3" y="637.92" font-size="7.2" text-anchor="middle" fill="#2e2e2e" textLength="13.8" lengthAdjust="spacingAndGlyphs" stroke="#2e2e2e" stroke-width="0.08">1.00</text>
<text x="161.0" y="637.92" font-size="7.2" text-anchor="middle" fill="#2e2e2e" textLength="15.0" lengthAdjust="spacingAndGlyphs" stroke="#2e2e2e" stroke-width="0.08">1.28.</text>
<text x="179.7" y="637.92" font-size="7.2" text-anchor="middle" fill="#2e2e2e" textLength="13.8" lengthAdjust="spacingAndGlyphs" stroke="#2e2e2e" stroke-width="0.08">2.98</text>
<text x="200.3" y="637.92" font-size="7.2" text-anchor="middle" fill="#2e2e2e" textLength="13.8" lengthAdjust="spacingAndGlyphs" stroke="#2e2e2e" stroke-width="0.08">2.54</text>
<text x="252.1" y="573.33" font-size="9.8" text-anchor="middle" fill="#1a1a1a" textLength="27.8" lengthAdjust="spacingAndGlyphs" stroke="#1a1a1a" stroke-width="0.15">MCL-7</text>
<text x="252.1" y="587.69" font-size="9.4" text-anchor="middle" fill="#1a1a1a" textLength="57.7" lengthAdjust="spacingAndGlyphs" stroke="#1a1a1a" stroke-width="0.15">Ibrutinib (μM)</text>
<line x1="221.2" y1="592.5" x2="282.7" y2="592.5" stroke="#1a1a1a" stroke-width="1.0"/>
<text x="225.9" y="603.42" font-size="7.2" text-anchor="middle" fill="#1a1a1a" textLength="3.6" lengthAdjust="spacingAndGlyphs" stroke="#1a1a1a" stroke-width="0.15">0</text>
<text x="241.0" y="603.42" font-size="7.2" text-anchor="middle" fill="#1a1a1a" textLength="2.6" lengthAdjust="spacingAndGlyphs" stroke="#1a1a1a" stroke-width="0.15">1</text>
<text x="257.8" y="603.42" font-size="7.2" text-anchor="middle" fill="#1a1a1a" textLength="10.2" lengthAdjust="spacingAndGlyphs" stroke="#1a1a1a" stroke-width="0.15">2.5</text>
<text x="278.3" y="603.42" font-size="7.2" text-anchor="middle" fill="#1a1a1a" textLength="10.8" lengthAdjust="spacingAndGlyphs" stroke="#1a1a1a" stroke-width="0.15">5.0</text>
<rect x="216.20" y="607.30" width="69.40" height="21.10" fill="url(#gbg)" stroke="#111" stroke-width="1.15" />
<rect x="216.20" y="642.40" width="66.80" height="21.40" fill="#ededed" stroke="#111" stroke-width="1.15" />
<rect x="220.60" y="617.70" width="11.70" height="4.40" rx="1.98" fill="url(#vg)" fill-opacity="0.75"/>
<rect x="237.40" y="617.90" width="11.70" height="6.80" rx="3.06" fill="url(#vg)" fill-opacity="0.98"/>
<rect x="253.20" y="617.70" width="11.20" height="5.80" rx="2.61" fill="url(#vg)" fill-opacity="0.95"/>
<rect x="269.60" y="617.80" width="11.70" height="4.40" rx="1.98" fill="url(#vg)" fill-opacity="0.8"/>
<rect x="217.20" y="651.50" width="13.60" height="6.80" rx="3.06" fill="url(#vg)" fill-opacity="0.98"/>
<rect x="232.70" y="651.80" width="14.90" height="6.80" rx="3.06" fill="url(#vg)" fill-opacity="0.98"/>
<rect x="249.10" y="652.10" width="14.60" height="6.60" rx="2.97" fill="url(#vg)" fill-opacity="0.98"/>
<rect x="265.90" y="652.70" width="16.10" height="6.80" rx="3.06" fill="url(#vg)" fill-opacity="0.98"/>
<text x="225.4" y="637.92" font-size="7.2" text-anchor="middle" fill="#2e2e2e" textLength="13.8" lengthAdjust="spacingAndGlyphs" stroke="#2e2e2e" stroke-width="0.08">1.00</text>
<text x="241.5" y="637.92" font-size="7.2" text-anchor="middle" fill="#2e2e2e" textLength="13.8" lengthAdjust="spacingAndGlyphs" stroke="#2e2e2e" stroke-width="0.08">2.12</text>
<text x="258.4" y="637.92" font-size="7.2" text-anchor="middle" fill="#2e2e2e" textLength="13.8" lengthAdjust="spacingAndGlyphs" stroke="#2e2e2e" stroke-width="0.08">1.74</text>
<text x="274.2" y="637.92" font-size="7.2" text-anchor="middle" fill="#2e2e2e" textLength="13.8" lengthAdjust="spacingAndGlyphs" stroke="#2e2e2e" stroke-width="0.08">1.11</text>
<text x="327.1" y="573.33" font-size="9.8" text-anchor="middle" fill="#1a1a1a" textLength="27.8" lengthAdjust="spacingAndGlyphs" stroke="#1a1a1a" stroke-width="0.15">MCL-9</text>
<text x="327.1" y="587.69" font-size="9.4" text-anchor="middle" fill="#1a1a1a" textLength="57.7" lengthAdjust="spacingAndGlyphs" stroke="#1a1a1a" stroke-width="0.15">Ibrutinib (μM)</text>
<line x1="294.2" y1="592.5" x2="357.7" y2="592.5" stroke="#1a1a1a" stroke-width="1.0"/>
<text x="299.7" y="603.42" font-size="7.2" text-anchor="middle" fill="#1a1a1a" textLength="3.6" lengthAdjust="spacingAndGlyphs" stroke="#1a1a1a" stroke-width="0.15">0</text>
<text x="316.2" y="603.42" font-size="7.2" text-anchor="middle" fill="#1a1a1a" textLength="2.6" lengthAdjust="spacingAndGlyphs" stroke="#1a1a1a" stroke-width="0.15">1</text>
<text x="334.0" y="603.42" font-size="7.2" text-anchor="middle" fill="#1a1a1a" textLength="10.2" lengthAdjust="spacingAndGlyphs" stroke="#1a1a1a" stroke-width="0.15">2.5</text>
<text x="352.5" y="603.42" font-size="7.2" text-anchor="middle" fill="#1a1a1a" textLength="10.8" lengthAdjust="spacingAndGlyphs" stroke="#1a1a1a" stroke-width="0.15">5.0</text>
<rect x="289.40" y="607.30" width="73.50" height="21.10" fill="url(#gbg)" stroke="#111" stroke-width="1.15" />
<rect x="289.40" y="642.40" width="73.50" height="21.40" fill="#ededed" stroke="#111" stroke-width="1.15" />
<rect x="296.80" y="616.60" width="8.40" height="3.60" rx="1.62" fill="url(#vg)" fill-opacity="0.15"/>
<rect x="310.60" y="615.70" width="14.60" height="5.80" rx="2.61" fill="url(#vg)" fill-opacity="0.97"/>
<rect x="328.30" y="615.30" width="15.40" height="5.80" rx="2.61" fill="url(#vg)" fill-opacity="0.97"/>
<rect x="348.30" y="616.20" width="9.20" height="3.60" rx="1.62" fill="url(#vg)" fill-opacity="0.12"/>
<rect x="291.40" y="652.30" width="15.40" height="6.00" rx="2.70" fill="url(#vg)" fill-opacity="0.98"/>
<rect x="309.40" y="653.50" width="15.80" height="6.00" rx="2.70" fill="url(#vg)" fill-opacity="0.98"/>
<rect x="328.30" y="652.80" width="15.40" height="6.00" rx="2.70" fill="url(#vg)" fill-opacity="0.98"/>
<rect x="347.50" y="651.20" width="13.90" height="6.00" rx="2.70" fill="url(#vg)" fill-opacity="0.98"/>
<text x="297.4" y="637.92" font-size="7.2" text-anchor="middle" fill="#2e2e2e" textLength="13.8" lengthAdjust="spacingAndGlyphs" stroke="#2e2e2e" stroke-width="0.08">1.00</text>
<text x="316.3" y="637.92" font-size="7.2" text-anchor="middle" fill="#2e2e2e" textLength="15.0" lengthAdjust="spacingAndGlyphs" stroke="#2e2e2e" stroke-width="0.08">1.88.</text>
<text x="336.0" y="637.92" font-size="7.2" text-anchor="middle" fill="#2e2e2e" textLength="13.8" lengthAdjust="spacingAndGlyphs" stroke="#2e2e2e" stroke-width="0.08">1.79</text>
<text x="355.7" y="637.92" font-size="7.2" text-anchor="middle" fill="#2e2e2e" textLength="13.8" lengthAdjust="spacingAndGlyphs" stroke="#2e2e2e" stroke-width="0.08">1.06</text>
<text x="51.9" y="621.66" font-size="9.6" text-anchor="end" fill="#1a1a1a" textLength="23.2" lengthAdjust="spacingAndGlyphs" stroke="#1a1a1a" stroke-width="0.15">EGR1</text>
<text x="55.4" y="658.96" font-size="9.6" text-anchor="end" fill="#1a1a1a" textLength="30.8" lengthAdjust="spacingAndGlyphs" stroke="#1a1a1a" stroke-width="0.15">β-Actin</text>
<line x1="417.6" y1="568.5" x2="417.6" y2="648.0" stroke="#1a1a1a" stroke-width="1.1"/>
<line x1="417.1" y1="647.5" x2="479.6" y2="647.5" stroke="#1a1a1a" stroke-width="1.1"/>
<line x1="415.0" y1="647.4" x2="417.6" y2="647.4" stroke="#1a1a1a" stroke-width="0.9"/>
<text x="411.20000000000005" y="650.13" font-size="7.8" text-anchor="end" fill="#1a1a1a" textLength="4.0" lengthAdjust="spacingAndGlyphs" stroke="#1a1a1a" stroke-width="0.15">0</text>
<line x1="415.0" y1="628.4499999999999" x2="417.6" y2="628.4499999999999" stroke="#1a1a1a" stroke-width="0.9"/>
<text x="411.20000000000005" y="631.18" font-size="7.8" text-anchor="end" fill="#1a1a1a" textLength="4.0" lengthAdjust="spacingAndGlyphs" stroke="#1a1a1a" stroke-width="0.15">1</text>
<line x1="415.0" y1="609.5" x2="417.6" y2="609.5" stroke="#1a1a1a" stroke-width="0.9"/>
<text x="411.20000000000005" y="612.23" font-size="7.8" text-anchor="end" fill="#1a1a1a" textLength="4.0" lengthAdjust="spacingAndGlyphs" stroke="#1a1a1a" stroke-width="0.15">2</text>
<line x1="415.0" y1="590.55" x2="417.6" y2="590.55" stroke="#1a1a1a" stroke-width="0.9"/>
<text x="411.20000000000005" y="593.28" font-size="7.8" text-anchor="end" fill="#1a1a1a" textLength="4.0" lengthAdjust="spacingAndGlyphs" stroke="#1a1a1a" stroke-width="0.15">3</text>
<line x1="415.0" y1="571.6" x2="417.6" y2="571.6" stroke="#1a1a1a" stroke-width="0.9"/>
<text x="411.20000000000005" y="574.33" font-size="7.8" text-anchor="end" fill="#1a1a1a" textLength="4.0" lengthAdjust="spacingAndGlyphs" stroke="#1a1a1a" stroke-width="0.15">4</text>
<line x1="424.6" y1="647.5" x2="424.6" y2="649.9" stroke="#1a1a1a" stroke-width="0.9"/>
<text x="424.6" y="661.06" font-size="7.6" text-anchor="middle" fill="#1a1a1a" textLength="4.0" lengthAdjust="spacingAndGlyphs" stroke="#1a1a1a" stroke-width="0.15">0</text>
<line x1="440.8" y1="647.5" x2="440.8" y2="649.9" stroke="#1a1a1a" stroke-width="0.9"/>
<text x="440.8" y="661.06" font-size="7.6" text-anchor="middle" fill="#1a1a1a" textLength="3.0" lengthAdjust="spacingAndGlyphs" stroke="#1a1a1a" stroke-width="0.15">1</text>
<line x1="457.3" y1="647.5" x2="457.3" y2="649.9" stroke="#1a1a1a" stroke-width="0.9"/>
<text x="457.3" y="661.06" font-size="7.6" text-anchor="middle" fill="#1a1a1a" textLength="11.0" lengthAdjust="spacingAndGlyphs" stroke="#1a1a1a" stroke-width="0.15">2.5</text>
<line x1="473.5" y1="647.5" x2="473.5" y2="649.9" stroke="#1a1a1a" stroke-width="0.9"/>
<text x="473.5" y="661.06" font-size="7.6" text-anchor="middle" fill="#1a1a1a" textLength="11.0" lengthAdjust="spacingAndGlyphs" stroke="#1a1a1a" stroke-width="0.15">5.0</text>
<text x="448.9" y="674.01" font-size="8.6" text-anchor="middle" fill="#1a1a1a" textLength="48.4" lengthAdjust="spacingAndGlyphs" stroke="#1a1a1a" stroke-width="0.15">Ibrutinib (μM)</text>
<text transform="translate(387.3,608.3) rotate(-90)" x="0" y="3.29" font-size="9.4" text-anchor="middle" fill="#1a1a1a" textLength="45.0" lengthAdjust="spacingAndGlyphs" stroke="#1a1a1a" stroke-width="0.15">Relative EGR1</text>
<text transform="translate(398.0,608.3) rotate(-90)" x="0" y="3.22" font-size="9.2" text-anchor="middle" fill="#1a1a1a" textLength="40.6" lengthAdjust="spacingAndGlyphs" stroke="#1a1a1a" stroke-width="0.15">protein level</text>
<line x1="425.0" y1="577.5" x2="457.3" y2="577.5" stroke="#1a1a1a" stroke-width="1.0"/>
<line x1="425.0" y1="589.5" x2="441.2" y2="589.5" stroke="#1a1a1a" stroke-width="1.0"/>
<text x="441.2" y="577.77" font-size="10.5" text-anchor="middle" fill="#1a1a1a" textLength="8.0" lengthAdjust="spacingAndGlyphs" stroke="#1a1a1a" stroke-width="0.15">**</text>
<text x="432.4" y="589.88" font-size="10.5" text-anchor="middle" fill="#1a1a1a" textLength="4.0" lengthAdjust="spacingAndGlyphs" stroke="#1a1a1a" stroke-width="0.15">*</text>
<circle cx="422.6" cy="628.5" r="1.35" fill="#1a2f6a"/>
<circle cx="424.4" cy="628.5" r="1.35" fill="#a8123a"/>
<circle cx="425.2" cy="628.5" r="1.35" fill="#2aa8d8"/>
<circle cx="427.2" cy="628.5" r="1.35" fill="#eec21e"/>
<circle cx="441.2" cy="597.8" r="1.35" fill="#a8123a"/>
<circle cx="441.2" cy="606.8" r="1.35" fill="#2aa8d8"/>
<circle cx="441.2" cy="611.5" r="1.35" fill="#eec21e"/>
<circle cx="441.2" cy="623.5" r="1.35" fill="#1a2f6a"/>
<circle cx="457.3" cy="591.2" r="1.35" fill="#1a2f6a"/>
<circle cx="457.3" cy="597.8" r="1.35" fill="#a8123a"/>
<circle cx="455.0" cy="614.5" r="1.35" fill="#2aa8d8"/>
<circle cx="459.2" cy="613.9" r="1.35" fill="#eec21e"/>
<circle cx="473.8" cy="599.2" r="1.35" fill="#1a2f6a"/>
<circle cx="473.8" cy="621.2" r="1.35" fill="#a8123a"/>
<circle cx="471.6" cy="627.3" r="1.35" fill="#eec21e"/>
<circle cx="475.8" cy="626.5" r="1.35" fill="#2aa8d8"/>
<line x1="421.0" y1="628.3" x2="428.5" y2="628.3" stroke="#555" stroke-width="1.0"/>
<line x1="438.0" y1="609.6" x2="444.7" y2="609.6" stroke="#555" stroke-width="1.0"/>
<line x1="453.9" y1="605.8" x2="460.7" y2="605.8" stroke="#555" stroke-width="1.0"/>
<line x1="470.4" y1="623.5" x2="477.3" y2="623.5" stroke="#555" stroke-width="1.0"/>
<circle cx="485.6" cy="570.6" r="2.05" fill="#a8123a"/>
<text x="491.3" y="573.26" font-size="7.6" text-anchor="start" fill="#1a1a1a" textLength="21.0" lengthAdjust="spacingAndGlyphs" stroke="#1a1a1a" stroke-width="0.15">MCL-4</text>
<circle cx="485.6" cy="580.2" r="2.05" fill="#1a2f6a"/>
<text x="491.3" y="582.86" font-size="7.6" text-anchor="start" fill="#1a1a1a" textLength="21.0" lengthAdjust="spacingAndGlyphs" stroke="#1a1a1a" stroke-width="0.15">MCL-5</text>
<circle cx="485.6" cy="589.9" r="2.05" fill="#2aa8d8"/>
<text x="491.3" y="592.56" font-size="7.6" text-anchor="start" fill="#1a1a1a" textLength="21.0" lengthAdjust="spacingAndGlyphs" stroke="#1a1a1a" stroke-width="0.15">MCL-7</text>
<circle cx="485.6" cy="599.5" r="2.05" fill="#eec21e"/>
<text x="491.3" y="602.16" font-size="7.6" text-anchor="start" fill="#1a1a1a" textLength="21.0" lengthAdjust="spacingAndGlyphs" stroke="#1a1a1a" stroke-width="0.15">MCL-9</text>
</svg>
</body></html>
